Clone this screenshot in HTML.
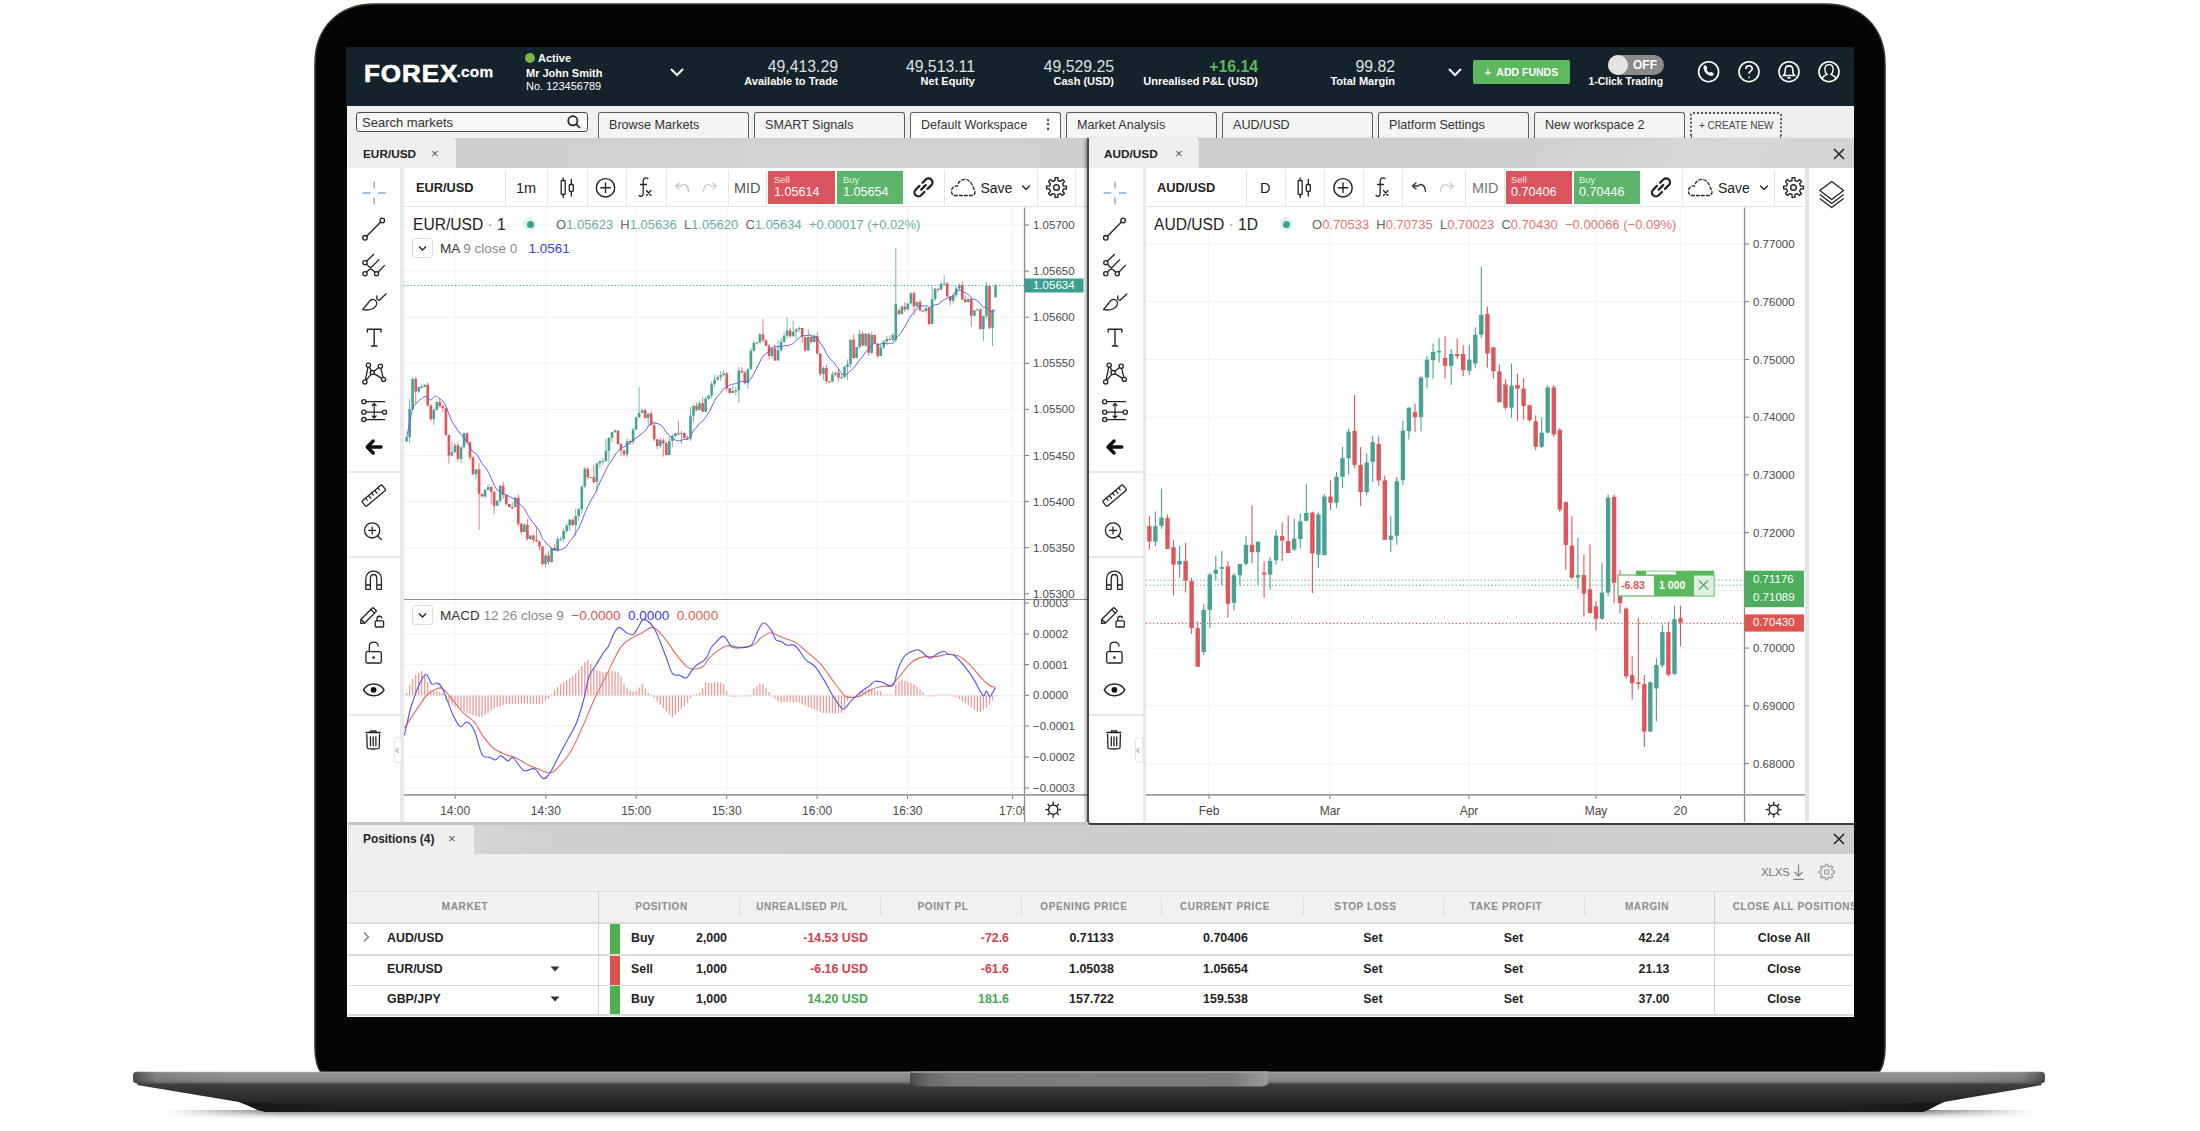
<!DOCTYPE html>
<html><head><meta charset="utf-8"><title>FOREX.com platform</title>
<style>
*{margin:0;padding:0;box-sizing:border-box}
html,body{width:2200px;height:1131px;overflow:hidden;background:#fff}
body{font-family:"Liberation Sans", Arial, sans-serif;color:#222;position:relative}
.a{position:absolute}
.t{position:absolute;white-space:nowrap;line-height:1}
.hv{color:#eef0f1;font-size:15.8px;text-align:right;width:200px}
.hl{color:#fff;font-size:11px;font-weight:bold;text-align:right;width:200px}
.tab{position:absolute;top:111.8px;height:26.2px;width:151px;border:1.6px solid #5c5c5c;border-bottom:none;border-radius:3px 3px 0 0;background:#f3f4f4;font-size:12.6px;color:#333;padding:5px 0 0 10px;white-space:nowrap}
.sep{position:absolute;width:1px;background:#e6e6e6}
.ax{position:absolute;font-size:11.5px;color:#4a4a4a;white-space:nowrap;line-height:1}
.th{position:absolute;top:902px;font-size:10px;font-weight:bold;color:#8c8c8c;letter-spacing:.6px;white-space:nowrap;line-height:1;text-align:center}
.td{position:absolute;font-size:12.4px;font-weight:bold;color:#1e1e1e;white-space:nowrap;line-height:1}
</style></head><body>
<svg class="a" style="left:0;top:0" width="2200" height="1131" viewBox="0 0 2200 1131">
<defs>
<linearGradient id="gShadow" x1="0" y1="0" x2="0" y2="1"><stop offset="0" stop-color="#7a7a7a"/><stop offset=".35" stop-color="#b8b8b8"/><stop offset="1" stop-color="#fff" stop-opacity="0"/></linearGradient>
<linearGradient id="gShadowH" x1="0" y1="0" x2="1" y2="0"><stop offset="0" stop-color="#fff" stop-opacity="1"/><stop offset=".06" stop-color="#fff" stop-opacity="0"/><stop offset=".94" stop-color="#fff" stop-opacity="0"/><stop offset="1" stop-color="#fff" stop-opacity="1"/></linearGradient>
<linearGradient id="gLow" x1="0" y1="0" x2="0" y2="1"><stop offset="0" stop-color="#4a4a4a"/><stop offset=".25" stop-color="#383838"/><stop offset=".6" stop-color="#2a2a2a"/><stop offset="1" stop-color="#1a1a1a"/></linearGradient>
<linearGradient id="gBar" x1="0" y1="0" x2="0" y2="1"><stop offset="0" stop-color="#b4b4b4"/><stop offset=".12" stop-color="#929292"/><stop offset=".7" stop-color="#888"/><stop offset="1" stop-color="#6a6a6a"/></linearGradient>
<linearGradient id="gBarEnd" x1="0" y1="0" x2="1" y2="0"><stop offset="0" stop-color="#000" stop-opacity=".45"/><stop offset=".012" stop-color="#000" stop-opacity=".1"/><stop offset=".05" stop-color="#000" stop-opacity="0"/><stop offset=".95" stop-color="#000" stop-opacity="0"/><stop offset=".988" stop-color="#000" stop-opacity=".1"/><stop offset="1" stop-color="#000" stop-opacity=".45"/></linearGradient>
<linearGradient id="gNotch" x1="0" y1="0" x2="1" y2="0"><stop offset="0" stop-color="#4a4a4a"/><stop offset=".05" stop-color="#6a6a6a"/><stop offset=".12" stop-color="#7a7a7a"/><stop offset=".5" stop-color="#7e7e7e"/><stop offset=".9" stop-color="#7a7a7a"/><stop offset=".95" stop-color="#8c8c8c"/><stop offset="1" stop-color="#9a9a9a"/></linearGradient>
</defs>
<rect x="165" y="1110" width="1870" height="11" fill="url(#gShadow)"/>
<rect x="165" y="1106" width="1870" height="16" fill="url(#gShadowH)"/>
<path d="M140,1080 L2038,1080 L2042,1085 L1944,1102 C1934,1106 1930,1110 1922,1112 L266,1112 C256,1110 248,1105 239,1102 L137,1085 Z" fill="url(#gLow)"/>
<defs><linearGradient id="gFootL" x1="0" y1="0" x2="1" y2="0"><stop offset="0" stop-color="#161616"/><stop offset=".6" stop-color="#1a1a1a"/><stop offset="1" stop-color="#1e1e1e" stop-opacity="0"/></linearGradient><linearGradient id="gFootR" x1="1" y1="0" x2="0" y2="0"><stop offset="0" stop-color="#161616"/><stop offset=".6" stop-color="#1a1a1a"/><stop offset="1" stop-color="#1e1e1e" stop-opacity="0"/></linearGradient></defs><path d="M238.5,1101.8 C250,1103 262,1103.3 280,1103.5 L340,1104 L340,1112 L266,1112 C256,1110 248,1105 238.5,1101.8 Z" fill="url(#gFootL)"/><path d="M1944,1102 C1932,1103 1920,1103.3 1900,1103.5 L1845,1104 L1845,1112 L1922,1112 C1930,1110 1934,1106 1944,1102 Z" fill="url(#gFootR)"/>
<path d="M315,64 C315,28 338,4 375,4 L1825,4 C1862,4 1885,28 1885,64 L1885,1048 C1885,1060 1882,1069 1879,1072 L321,1072 C318,1069 315,1060 315,1048 Z" fill="#050505" stroke="#3e382c" stroke-width="1.6"/>
<rect x="133" y="1071.8" width="1912" height="11.6" rx="3.8" fill="url(#gBar)"/>
<rect x="133" y="1071.8" width="1912" height="11.6" rx="3.8" fill="url(#gBarEnd)"/>
<path d="M910,1071.5 L1268,1071.5 L1268,1084 C1266,1086 1262,1086.5 1258,1086.5 L920,1086.5 C915,1086.5 911,1085 910,1083 Z" fill="url(#gNotch)"/>
<rect x="910" y="1071.5" width="358" height="1.2" fill="#a8a8a8"/>
</svg>
<div class="a" style="left:347px;top:47px;width:1507px;height:970px;background:#fff;overflow:hidden"></div><div class="a" style="left:345.5px;top:47px;width:1508.5px;height:59px;background:#14222b"></div><div class="t" style="left:364px;top:62px;font-size:24.5px;font-weight:bold;color:#fff;letter-spacing:0.9px;transform:scaleX(1.06);transform-origin:0 0;-webkit-text-stroke:0.7px #fff">FOREX</div><div class="t" style="left:456.5px;top:64px;font-size:15.3px;font-weight:bold;color:#fff;letter-spacing:0.3px;-webkit-text-stroke:0.3px #fff">.com</div><div class="a" style="left:525px;top:53px;width:10px;height:10px;border-radius:50%;background:#7cb342"></div><div class="t" style="left:538px;top:53px;font-size:11px;font-weight:bold;color:#fff">Active</div><div class="t" style="left:526px;top:68px;font-size:11px;font-weight:bold;color:#fff">Mr John Smith</div><div class="t" style="left:526px;top:81px;font-size:11px;color:#fff">No. 123456789</div><svg class="a" style="left:669px;top:66px" width="16" height="12" viewBox="0 0 16 12"><path d="M2,3 L8,9 L14,3" fill="none" stroke="#fff" stroke-width="2"/></svg><div class="t hv" style="left:638px;top:59px;color:#dde1e3;">49,413.29</div><div class="t hl" style="left:638px;top:76px">Available to Trade</div><div class="t hv" style="left:775px;top:59px;color:#dde1e3;">49,513.11</div><div class="t hl" style="left:775px;top:76px">Net Equity</div><div class="t hv" style="left:914px;top:59px;color:#dde1e3;">49,529.25</div><div class="t hl" style="left:914px;top:76px">Cash (USD)</div><div class="t hv" style="left:1058px;top:59px;color:#5cb85c;font-weight:bold;">+16.14</div><div class="t hl" style="left:1058px;top:76px">Unrealised P&amp;L (USD)</div><div class="t hv" style="left:1195px;top:59px;color:#dde1e3;">99.82</div><div class="t hl" style="left:1195px;top:76px">Total Margin</div><svg class="a" style="left:1447px;top:66px" width="16" height="12" viewBox="0 0 16 12"><path d="M2,3 L8,9 L14,3" fill="none" stroke="#fff" stroke-width="2"/></svg><div class="a" style="left:1473px;top:60px;width:97px;height:24px;background:#5cb85c;border-radius:2px"></div><div class="t" style="left:1473px;top:66.5px;width:97px;text-align:center;font-size:10.5px;font-weight:bold;color:#fff">+&nbsp; ADD FUNDS</div><div class="a" style="left:1608px;top:55px;width:56px;height:20px;background:#8a8a8a;border-radius:10px"></div><div class="a" style="left:1608px;top:55px;width:20px;height:20px;background:#e4e4e4;border-radius:50%"></div><div class="t" style="left:1633px;top:59px;font-size:12px;font-weight:bold;color:#fff">OFF</div><div class="t" style="left:1563px;top:77px;width:100px;text-align:right;font-size:10.4px;font-weight:bold;color:#fff">1-Click Trading</div><svg class="a" style="left:1690px;top:52px" width="160" height="40" viewBox="1690 52 160 40" fill="none" stroke="#fff" stroke-width="1.6">
<circle cx="1708.6" cy="71.7" r="10"/>
<path d="M1703.5,67 c0.5,-1.5 1.6,-2 2.3,-1.6 l1.4,2.2 c0.3,0.6 0,1.1 -0.7,1.6 c0.6,1.6 1.8,2.9 3.4,3.6 c0.5,-0.7 1,-1 1.6,-0.7 l2.2,1.4 c0.4,0.7 -0.1,1.8 -1.6,2.3 c-4.5,0.3 -8.7,-3.9 -8.6,-8.8 z" fill="#fff" stroke="none"/>
<circle cx="1749" cy="71.7" r="10"/>
<path d="M1745.8,69 c0,-2 1.4,-3.3 3.2,-3.3 c1.9,0 3.2,1.3 3.2,3 c0,2.4 -3.2,2.4 -3.2,5"/>
<circle cx="1749" cy="77.3" r="0.9" fill="#fff" stroke="none"/>
<circle cx="1789" cy="71.7" r="10"/>
<path d="M1783.5,75.5 h11 c-1.3,-1.2 -1.7,-2.4 -1.7,-4.2 v-1.5 c0,-2.3 -1.6,-3.9 -3.8,-3.9 c-2.2,0 -3.8,1.6 -3.8,3.9 v1.5 c0,1.8 -0.4,3 -1.7,4.2 z"/>
<path d="M1787.6,77.3 c0.3,0.9 2.5,0.9 2.8,0"/>
<circle cx="1829" cy="71.7" r="10"/>
<path d="M1821.8,79.2 C1822.8,76.4 1824.8,75.2 1826.9,74.4 C1825.3,73 1824.9,71.2 1824.9,69.2 C1824.9,66.4 1826.7,64.6 1829,64.6 C1831.3,64.6 1833.1,66.4 1833.1,69.2 C1833.1,71.2 1832.7,73 1831.1,74.4 C1833.2,75.2 1835.2,76.4 1836.2,79.2" stroke-width="1.4"/>
</svg><div class="a" style="left:347px;top:106px;width:1507px;height:32px;background:#eff0f0"></div><div class="a" style="left:356px;top:112px;width:232px;height:20px;border:1.6px solid #4a4a4a;border-radius:3px;background:#f6f6f6"></div><div class="t" style="left:362px;top:115.5px;font-size:13px;color:#333">Search markets</div><svg class="a" style="left:566px;top:114px" width="16" height="16" viewBox="0 0 16 16" fill="none" stroke="#222" stroke-width="1.7"><circle cx="6.8" cy="6.8" r="4.6"/><path d="M10.2,10.2 L14,14"/></svg><div class="tab" style="left:598px;">Browse Markets</div><div class="tab" style="left:754px;">SMART Signals</div><div class="tab" style="left:910px;background:#fff;">Default Workspace</div><div class="tab" style="left:1066px;">Market Analysis</div><div class="tab" style="left:1222px;">AUD/USD</div><div class="tab" style="left:1378px;">Platform Settings</div><div class="tab" style="left:1534px;">New workspace 2</div><div class="t" style="left:1041.5px;top:118px;font-size:12px;font-weight:bold;color:#333">&#8942;</div><div class="a" style="left:1690px;top:112px;width:92px;height:26px;border:2px dotted #555;border-bottom:none;border-radius:3px 3px 0 0;background:#f3f4f4"></div><div class="t" style="left:1699px;top:120.5px;font-size:10px;color:#444">+ CREATE NEW</div><div class="a" style="left:348px;top:138px;width:740px;height:30px;background:linear-gradient(90deg,#cdcdcd,#d2d2d2 60%,#cfcfcf)"></div><div class="a" style="left:348px;top:138px;width:108px;height:30px;background:#efefef;border-radius:0 4px 0 0"></div><div class="t" style="left:363px;top:148.5px;font-size:11.8px;font-weight:bold;color:#222">EUR/USD</div><div class="t" style="left:431px;top:147px;font-size:13px;color:#555">&#215;</div><div class="a" style="left:348px;top:168px;width:52px;height:654px;background:#fff"></div><div class="a" style="left:400px;top:168px;width:3.5px;height:654px;background:#e9e9eb"></div><div class="a" style="left:349px;top:471px;width:51px;height:1.5px;background:#e6e6e8"></div><div class="a" style="left:349px;top:556px;width:51px;height:1.5px;background:#e6e6e8"></div><div class="a" style="left:349px;top:714px;width:51px;height:1.5px;background:#e6e6e8"></div><svg class="a" style="left:0;top:0;overflow:visible" width="1" height="1"><g fill="none" stroke="#222" stroke-width="1.3" stroke-linecap="round" stroke-linejoin="round"><g stroke="#85ade0" stroke-width="1.5" stroke-linecap="butt"><path d="M374.2,181.5 V188.5 M374.2,197.5 V204.5 M362.7,193 H370.5 M378,193 H385.8"/></g><path d="M366.6,236.3 L380.7,222"/><circle cx="365" cy="237.8" r="2.3"/><circle cx="382.3" cy="220.5" r="2.3"/><circle cx="365" cy="262.8" r="2.1"/><circle cx="365" cy="273.7" r="2.1"/><circle cx="376.5" cy="273.7" r="2.1"/><path d="M366.5,264.3 L375,272.2 M366.5,261.3 L373.6,254.5 M366.5,272.2 L379,259.6 M378,272.2 L384.5,265.4"/><path d="M362.7,309.6 L368.5,302.5 C370.5,299 373.5,298.5 376,301 C378,304 376,307.5 372,309 C369,310.3 365,310 362.7,309.6 Z"/><path d="M377,296 C376.5,298 377.5,300 379,300.5 L386,294"/><path d="M367.4,332 V329.3 H381 V332 M374.2,329.3 V346 M371.5,346 H377" stroke-width="1.4"/><path d="M364.9,381.9 L368.4,365.2 L372.3,372.6 L380.4,366.3 L383.5,379.4 L372.3,372.6 Z"/><circle cx="364.9" cy="381.9" r="2.1" fill="#fff"/><circle cx="368.4" cy="365.2" r="2.1" fill="#fff"/><circle cx="372.3" cy="372.6" r="2.1" fill="#fff"/><circle cx="380.4" cy="366.3" r="2.1" fill="#fff"/><circle cx="383.5" cy="379.4" r="2.1" fill="#fff"/><path d="M366,401.7 H384.7 M366,412.2 H382.4 M366,419.6 H384.7"/><circle cx="363.9" cy="401.7" r="2.1" fill="#fff"/><circle cx="363.9" cy="412.2" r="2.1" fill="#fff"/><circle cx="363.9" cy="419.6" r="2.1" fill="#fff"/><circle cx="384.5" cy="412.2" r="2.1" fill="#fff"/><path d="M374.2,403.5 V418 M372.3,405.5 L374.2,403.3 L376.1,405.5 M372.3,416 L374.2,418.2 L376.1,416" stroke-width="1.2"/><path d="M368.5,447 H381 M373.2,441 L367.2,447 L373.2,453" stroke-width="3.4" stroke-linecap="round" stroke="#111"/><g transform="translate(373.8,495.6) rotate(-40)"><rect x="-13" y="-3.4" width="26" height="6.8" rx="1"/><path d="M-8,-3.4 V-0.8 M-4,-3.4 V0.2 M0,-3.4 V-0.8 M4,-3.4 V0.2 M8,-3.4 V-0.8"/></g><circle cx="372.2" cy="530.4" r="7.6"/><path d="M377.6,535.8 L381.5,539.6 M368.8,530.4 H375.6 M372.2,527 V533.8"/><path d="M365.8,589.3 V579 C365.8,568.5 381.4,568.5 381.4,579 V589.3 H376.8 V579 C376.8,573 370.4,573 370.4,579 V589.3 Z M365.8,585 H370.4 M376.8,585 H381.4"/><g transform="translate(369.5,614.5) rotate(-45)"><rect x="-9.5" y="-2.6" width="17" height="5.2" rx="0.8"/><path d="M-9.5,-2.6 L-12.5,0 L-9.5,2.6 M4.5,-2.6 V2.6"/></g><rect x="375.2" y="620.8" width="8.4" height="6.2" rx="1"/><path d="M377,620.8 V618.6 C377,615.6 381.6,615.6 381.6,617.8"/><rect x="365.9" y="651.6" width="15.4" height="11.4" rx="1.6"/><path d="M369.3,651.6 V646.5 C369.3,640.8 378.2,640.8 378.2,646"/><circle cx="373.6" cy="657.6" r="1.3" fill="#222" stroke="none"/><path d="M363.5,689.8 C368,682 379.5,682 384,689.8 C379.5,697.6 368,697.6 363.5,689.8 Z" stroke-width="1.5"/><circle cx="373.6" cy="689.8" r="2.9" fill="#111" stroke="none"/><path d="M366,732.5 H380.2 M370.5,732.5 V730.8 H375.9 V732.5 M366.8,734.5 L367.2,748 C367.8,749.3 378.6,749.3 379.2,748 L379.6,734.5 M370.5,737 V745.8 M373.2,737 V745.8 M375.9,737 V745.8" stroke-width="1.3"/></g></svg><div class="a" style="left:394px;top:737px;width:8px;height:26px;background:#fff;border:1px solid #e6e6e6;border-radius:3px"></div><div class="t" style="left:395px;top:743px;font-size:13px;color:#9a9a9a">&#8249;</div><div class="a" style="left:403.5px;top:168px;width:684px;height:39px;background:#fff;border-bottom:1px solid #e3e3e3"></div><div class="sep" style="left:505px;top:170px;height:36px"></div><div class="sep" style="left:547px;top:170px;height:36px"></div><div class="sep" style="left:586.5px;top:170px;height:36px"></div><div class="sep" style="left:626px;top:170px;height:36px"></div><div class="sep" style="left:665.5px;top:170px;height:36px"></div><div class="sep" style="left:728px;top:170px;height:36px"></div><div class="sep" style="left:766px;top:170px;height:36px"></div><div class="sep" style="left:943.5px;top:170px;height:36px"></div><div class="sep" style="left:1037px;top:170px;height:36px"></div><div class="sep" style="left:1075px;top:170px;height:36px"></div><div class="t" style="left:416px;top:181.5px;font-size:12.8px;font-weight:bold;color:#222">EUR/USD</div><div class="t" style="left:516px;top:181px;font-size:14.5px;color:#222">1m</div><div class="t" style="left:734px;top:181px;font-size:14.5px;color:#555">MID</div><div class="a" style="left:768px;top:171px;width:67px;height:33px;background:#d9545e"></div><div class="a" style="left:837px;top:171px;width:66px;height:33px;background:#5cb46b"></div><div class="t" style="left:774px;top:175px;font-size:9.5px;color:#fbe3e3">Sell</div><div class="t" style="left:774px;top:186px;font-size:12.6px;color:#fff">1.05614</div><div class="t" style="left:843px;top:175px;font-size:9.5px;color:#e3f6e3">Buy</div><div class="t" style="left:843px;top:186px;font-size:12.6px;color:#fff">1.05654</div><div class="t" style="left:980.5px;top:181px;font-size:14px;color:#222">Save</div><svg class="a" style="left:0;top:0;overflow:visible" width="1" height="1"><g fill="none" stroke="#222" stroke-width="1.3" stroke-linecap="round" stroke-linejoin="round"><rect x="561.2" y="180.5" width="4" height="14" rx="0.8"/><path d="M563.2,178 V180.5 M563.2,194.5 V197.5"/><rect x="569.3" y="184.5" width="4" height="6.8" rx="0.8"/><path d="M571.3,179.5 V184.5 M571.3,191.3 V196"/><circle cx="605.5" cy="187.8" r="9.2" stroke-width="1.4"/><path d="M600.7,187.8 H610.3 M605.5,183 V192.6" stroke-width="1.4"/><path d="M648,178.5 C646,177.2 643.2,178 643.2,181 V193.5 C643.2,196.5 640.5,197 639,195.5 M640.5,184.5 H646.5" stroke-width="1.3"/><path d="M646.5,190.5 L651,195.5 M651,190.5 L646.5,195.5" stroke-width="1.2"/><path d="M688.5,191.5 C688,185 684,183 681,186 H676 M679,183 L675.5,186 L679,189" stroke="#c9c9c9" stroke-width="1.4"/><path d="M703.5,191.5 C704,185 708,183 711,186 H716 M713,183 L716.5,186 L713,189" stroke="#d0d0d0" stroke-width="1.4"/><g transform="translate(923.5,187.4) rotate(-45)" stroke-width="2.3" stroke="#222" stroke-linecap="round"><path d="M-1.8,-3.9 H-7.2 A3.9,3.9 0 0 0 -7.2,3.9 H-2.6 M1.8,3.9 H7.2 A3.9,3.9 0 0 0 7.2,-3.9 H2.6 M-3.2,0 H3.2"/></g><path d="M954.5,195.5 H971.5 C975.5,195.5 976,190.5 973.5,188.5 C972,181 966,178 962,180 C959.5,181 958,183.5 957.5,186 C954,185.5 951.5,188 951.5,191 C951.5,194 953,195.5 954.5,195.5 Z" stroke-dasharray="2.8 2.2" stroke-width="1.3"/><path d="M1022.5,186 L1026,189.5 L1029.5,186" stroke-width="1.3"/><path d="M1063.5,186 L1066.4,186.1 L1066.4,188.9 L1063.5,189 L1062.6,191.4 L1064.5,193.5 L1062.5,195.5 L1060.4,193.6 L1058,194.5 L1057.9,197.4 L1055.1,197.4 L1055,194.5 L1052.6,193.6 L1050.5,195.5 L1048.5,193.5 L1050.4,191.4 L1049.5,189 L1046.6,188.9 L1046.6,186.1 L1049.5,186 L1050.4,183.6 L1048.5,181.5 L1050.5,179.5 L1052.6,181.4 L1055,180.5 L1055.1,177.6 L1057.9,177.6 L1058,180.5 L1060.4,181.4 L1062.5,179.5 L1064.5,181.5 L1062.6,183.6 Z" stroke="#222" stroke-width="1.4" fill="none"/><circle cx="1056.5" cy="187.5" r="2.8" stroke="#222" stroke-width="1.4" fill="none"/></g></svg><svg class="a" style="left:0;top:0" width="1100" height="830" viewBox="0 0 1100 830"><defs><clipPath id="cE"><rect x="404" y="207.5" width="620" height="391"/></clipPath><clipPath id="cM"><rect x="404" y="600" width="620" height="194"/></clipPath></defs><path d="M404,225 H1024 M404,271.1 H1024 M404,317.2 H1024 M404,363.3 H1024 M404,409.4 H1024 M404,455.5 H1024 M404,501.6 H1024 M404,547.7 H1024 M404,593.8 H1024 M404,603 H1024 M404,634 H1024 M404,664.6 H1024 M404,695.3 H1024 M404,726 H1024 M404,757 H1024 M404,788 H1024 M455.2,207.5 V794 M545.8,207.5 V794 M636.2,207.5 V794 M726.7,207.5 V794 M817.1,207.5 V794 M907.5,207.5 V794 M1012.6,207.5 V794" stroke="#f0f1f4" stroke-width="1"/><g clip-path="url(#cE)"><path d="M406.6,436.2 V441.8 M409.6,399 V443 M412.6,377.3 V410 M418.7,386.1 V392.8 M421.7,383.9 V388.9 M424.7,384.5 V387.6 M433.8,408.3 V424.9 M436.8,400.6 V410.3 M451.9,441.6 V456.3 M454.9,443 V452.9 M461,446.1 V463.1 M464,433.2 V448.7 M476.1,468.8 V479.5 M485.1,488.8 V497.6 M488.1,484.4 V490.2 M497.2,500.1 V506.3 M500.2,485.4 V503.3 M515.3,496.7 V507.3 M524.4,523.4 V532.1 M530.4,535 V540 M545.5,553.3 V567.2 M551.6,548.1 V562.6 M557.6,536.4 V552 M560.6,536.8 V540.9 M563.6,528.5 V542.4 M566.7,523.6 V532.8 M569.7,519 V530.8 M575.7,509.1 V536.2 M578.7,507.9 V520.6 M581.8,485.5 V513.2 M584.8,466.8 V488 M590.8,476.8 V477.8 M596.9,462.6 V492.5 M599.9,460.2 V467.9 M602.9,458 V465.3 M605.9,438.9 V461.8 M608.9,437.5 V462.5 M612,431.7 V442.5 M615,429.1 V432.6 M627.1,438.1 V457.1 M633.1,427.8 V444.8 M636.1,416.6 V430.1 M639.1,387 V418 M642.2,408.7 V413 M648.2,413.1 V426.9 M660.3,437.4 V447.7 M669.3,436.7 V455.1 M672.4,433.8 V447.3 M675.4,432.7 V436.9 M681.4,430.3 V444.1 M690.5,407.1 V440.9 M693.5,405.6 V422.1 M699.5,400.9 V410.6 M705.6,396.4 V412.2 M708.6,395 V399.9 M711.6,381.6 V398.5 M714.6,374.3 V386.4 M717.7,375.4 V380.4 M720.7,371.1 V380.9 M723.7,370.2 V376.6 M732.8,386 V392.9 M735.8,386.7 V395 M738.8,367.1 V403 M747.9,368.6 V388.9 M750.9,347.7 V370.1 M753.9,340.8 V351.8 M756.9,342.2 V343.8 M759.9,333.1 V343.2 M772,348.2 V358.1 M778.1,340.1 V360.9 M781.1,338.1 V351.8 M784.1,332.5 V342.4 M787.1,317.3 V338.5 M793.2,320.5 V336.5 M796.2,328.1 V339.3 M799.2,326.5 V332.1 M808.3,328.9 V351.1 M814.3,334.2 V342.3 M823.4,366.2 V379.9 M832.4,371.3 V382.3 M835.4,371.6 V376.3 M841.5,373.5 V378.2 M844.5,365.7 V377.8 M847.5,359.4 V379.8 M850.5,339.7 V367.8 M856.6,347 V358.1 M859.6,329.8 V348.6 M865.6,333.6 V347.2 M871.7,332 V354.1 M880.7,343.9 V356.1 M883.8,340.1 V349.1 M886.8,335.9 V344.6 M892.8,332.9 V341.4 M895.8,248 V342 M901.9,306.1 V314.2 M907.9,303 V310.4 M910.9,292.1 V304.6 M917,301.4 V307.5 M926,306.9 V313 M932.1,286.6 V324.1 M935.1,287.8 V301 M941.1,282.4 V290.9 M944.2,275 V284.8 M953.2,292.3 V303.6 M956.2,286.4 V297.6 M959.3,282.8 V290.2 M968.3,298.1 V302.8 M974.4,310.1 V316 M977.4,308.4 V310.3 M983.4,315.5 V340.8 M986.4,282 V318.8 M992.5,308.9 V346 M995.5,284 V298" stroke="#47a293" stroke-width="0.9" fill="none" opacity="0.85"/><path d="M415.7,377.2 V403.3 M427.7,382.7 V406.8 M430.8,404 V421.3 M439.8,397.8 V408 M442.8,404.4 V412.2 M445.9,407.7 V435.8 M448.9,434.9 V463.5 M457.9,442.2 V461.7 M467,433.1 V444.1 M470,441.2 V460.1 M473,456.1 V475.2 M479.1,463.1 V530 M482.1,493.4 V496.8 M491.2,485.7 V504.1 M494.2,490.9 V514.2 M503.2,481.8 V498.9 M506.3,494.6 V505.6 M509.3,503.9 V507.3 M512.3,502.1 V508.8 M518.3,494.4 V526.2 M521.4,522.9 V534.5 M527.4,519.2 V540.7 M533.4,534.4 V542.7 M536.5,527 V541.8 M539.5,540.6 V550.4 M542.5,546.3 V565.8 M548.5,551.4 V564.5 M554.6,544.2 V550.8 M572.7,518.2 V525.7 M587.8,466.8 V479.3 M593.8,464.8 V484 M618,430.3 V444.7 M621,442.6 V456.5 M624,450.2 V456 M630.1,439.4 V445.2 M645.2,408.6 V418.5 M651.2,411 V425.6 M654.2,421 V441.2 M657.3,439 V449 M663.3,438.2 V456.8 M666.3,441.3 V455.4 M678.4,420.7 V435.2 M684.4,432.1 V438.4 M687.5,435.6 V438.9 M696.5,402.4 V411.2 M702.6,397.5 V412.1 M726.7,371.8 V391.1 M729.7,388.1 V393.6 M741.8,367.2 V373.5 M744.8,370.9 V384.6 M763,319 V342.1 M766,339.7 V346.4 M769,343.9 V358.9 M775,344.6 V361 M790.1,327.7 V337.7 M802.2,327.8 V342.7 M805.2,336.8 V351.4 M811.3,335.7 V343 M817.3,332.4 V355.1 M820.3,353.2 V376.3 M826.4,364.3 V384.2 M829.4,381.2 V382.3 M838.5,368.7 V381.5 M853.6,334.4 V359.1 M862.6,331.6 V346.2 M868.7,333.4 V355.8 M874.7,334.4 V343.7 M877.7,342.9 V357.8 M889.8,336.3 V340 M898.9,308.5 V315.4 M904.9,302 V312 M914,291.6 V315.4 M920,299.4 V311.3 M923,309.8 V311.8 M929.1,306.5 V325.7 M938.1,288.4 V292.4 M947.2,281.9 V296.9 M950.2,296.2 V305.5 M962.3,281.4 V300.1 M965.3,295.5 V303 M971.3,297.8 V326.6 M980.4,308.1 V329.6 M989.5,285.1 V329.1" stroke="#dd565a" stroke-width="0.9" fill="none" opacity="0.85"/><path d="M406.6,437.3 V441.3 M409.6,408.9 V437.3 M412.6,379.1 V408.9 M418.7,387.3 V391.4 M421.7,386.7 V387.9 M424.7,384.8 V386.7 M433.8,409.7 V418.9 M436.8,401.9 V409.7 M451.9,452.3 V455.4 M454.9,445.2 V452.3 M461,447.2 V459 M464,433.3 V447.2 M476.1,469.6 V474.3 M485.1,490.1 V496.4 M488.1,486.9 V490.1 M497.2,500.7 V505.8 M500.2,485.7 V500.7 M515.3,497.8 V507.1 M524.4,524.8 V531.9 M530.4,535.5 V539 M545.5,555.6 V563.9 M551.6,548.1 V562.1 M557.6,539.2 V550.7 M560.6,539 V540.2 M563.6,531.1 V539 M566.7,525.6 V531.1 M569.7,519.8 V525.6 M575.7,516 V525.1 M578.7,508.9 V516 M581.8,486.5 V508.9 M584.8,468.8 V486.5 M590.8,476.9 V478.1 M596.9,463.6 V482.1 M599.9,461.3 V463.6 M602.9,460.9 V462.1 M605.9,450.8 V460.9 M608.9,437.8 V450.8 M612,432.3 V437.8 M615,430.7 V432.3 M627.1,441.3 V454.6 M633.1,429.5 V441.8 M636.1,417.2 V429.5 M639.1,412.9 V417.2 M642.2,410.2 V412.9 M648.2,413.5 V418 M660.3,440.3 V446.1 M669.3,440.9 V455 M672.4,436.1 V440.9 M675.4,433.3 V436.1 M681.4,433 V434.2 M690.5,415.7 V438.5 M693.5,405.7 V415.7 M699.5,403.3 V410 M705.6,398.8 V411.7 M708.6,395.5 V398.8 M711.6,384.3 V395.5 M714.6,379.8 V384.3 M717.7,377.2 V379.8 M720.7,375 V377.2 M723.7,373.4 V375 M732.8,391.1 V392.9 M735.8,390.5 V391.7 M738.8,370.7 V390.5 M747.9,369 V382.9 M750.9,350.4 V369 M753.9,342.9 V350.4 M756.9,342.3 V343.5 M759.9,334.4 V342.3 M772,348.3 V355.9 M778.1,350.2 V360.4 M781.1,341.9 V350.2 M784.1,335.8 V341.9 M787.1,330.5 V335.8 M793.2,331.8 V336.2 M796.2,329.3 V331.8 M799.2,327.9 V329.3 M808.3,337 V350.4 M814.3,336.1 V341.9 M823.4,368 V374 M832.4,374.5 V381.6 M835.4,372.8 V374.5 M841.5,377.2 V378.4 M844.5,367 V377.2 M847.5,364.2 V367 M850.5,339.8 V364.2 M856.6,347 V357.9 M859.6,333.7 V347 M865.6,333.8 V345.6 M871.7,334.9 V352.8 M880.7,347.4 V356 M883.8,341.6 V347.4 M886.8,338.9 V341.6 M892.8,335 V339.5 M895.8,304 V340 M901.9,306.4 V313.9 M907.9,303.6 V309.5 M910.9,293.2 V303.6 M917,302 V306.2 M926,307.9 V311.1 M932.1,299 V323.9 M935.1,288.8 V299 M941.1,283.9 V289.4 M944.2,283.4 V284.6 M953.2,295.3 V300.7 M956.2,288.6 V295.3 M959.3,284.9 V288.6 M968.3,299.1 V302 M974.4,310.2 V315.7 M977.4,309.4 V310.6 M983.4,315.9 V329 M986.4,285.7 V315.9 M992.5,310.2 V327.8 M995.5,285.5 V297" stroke="#47a293" stroke-width="2.6" fill="none"/><path d="M415.7,379.1 V391.4 M427.7,384.8 V405.6 M430.8,405.6 V418.9 M439.8,401.9 V406 M442.8,406 V408.1 M445.9,408.1 V435.1 M448.9,435.1 V455.4 M457.9,445.2 V459 M467,433.3 V442.2 M470,442.2 V457.6 M473,457.6 V474.3 M479.1,469.6 V493.8 M482.1,493.8 V496.4 M491.2,486.9 V492.1 M494.2,492.1 V505.8 M503.2,485.7 V494.7 M506.3,494.7 V504 M509.3,504 V507 M512.3,507 V508.2 M518.3,497.8 V523.7 M521.4,523.7 V531.9 M527.4,524.8 V539 M533.4,535.5 V539.9 M536.5,539.9 V541.4 M539.5,541.4 V546.4 M542.5,546.4 V563.9 M548.5,555.6 V562.1 M554.6,548.1 V550.7 M572.7,519.8 V525.1 M587.8,468.8 V477.3 M593.8,476.9 V482.1 M618,430.7 V444 M621,444 V450.5 M624,450.5 V454.6 M630.1,441.3 V442.5 M645.2,410.2 V418 M651.2,413.5 V425.2 M654.2,425.2 V439.3 M657.3,439.3 V446.1 M663.3,440.3 V443.3 M666.3,443.3 V455 M678.4,433.3 V434.5 M684.4,433 V438.1 M687.5,438.1 V439.3 M696.5,405.7 V410 M702.6,403.3 V411.7 M726.7,373.4 V388.2 M729.7,388.2 V392.9 M741.8,370.7 V372.4 M744.8,372.4 V382.9 M763,334.4 V340.2 M766,340.2 V345.7 M769,345.7 V355.9 M775,348.3 V360.4 M790.1,330.5 V336.2 M802.2,327.9 V337.1 M805.2,337.1 V350.4 M811.3,337 V341.9 M817.3,336.1 V353.6 M820.3,353.6 V374 M826.4,368 V381.2 M829.4,381.2 V382.4 M838.5,372.8 V377.5 M853.6,339.8 V357.9 M862.6,333.7 V345.6 M868.7,333.8 V352.8 M874.7,334.9 V343.4 M877.7,343.4 V356 M889.8,338.9 V340.1 M898.9,310.5 V313.9 M904.9,306.4 V309.5 M914,293.2 V306.2 M920,302 V310.4 M923,310.4 V311.6 M929.1,307.9 V323.9 M938.1,288.8 V290 M947.2,283.4 V296.6 M950.2,296.6 V300.7 M962.3,284.9 V299.6 M965.3,299.6 V302 M971.3,299.1 V315.7 M980.4,309.4 V329 M989.5,285.7 V327.8" stroke="#dd565a" stroke-width="2.6" fill="none"/><path d="M406.6,437.3 C407.1,435 408.6,427.9 409.6,423.1 C410.6,418.3 411.6,411.6 412.6,408.4 C413.6,405.3 414.7,405.5 415.7,404.2 C416.7,402.9 417.7,401.8 418.7,400.8 C419.7,399.9 420.7,399.2 421.7,398.5 C422.7,397.7 423.7,396.6 424.7,396.5 C425.7,396.4 426.7,397.1 427.7,397.6 C428.7,398.2 429.8,400.1 430.8,400 C431.8,399.9 432.8,397.6 433.8,396.9 C434.8,396.3 435.8,395.8 436.8,396.2 C437.8,396.5 438.8,398.3 439.8,399.1 C440.8,400 441.8,399.8 442.8,401 C443.8,402.2 444.9,404.2 445.9,406.3 C446.9,408.5 447.9,411.4 448.9,413.9 C449.9,416.5 450.9,419.5 451.9,421.4 C452.9,423.4 453.9,424.4 454.9,425.9 C455.9,427.3 456.9,428.9 457.9,430.3 C458.9,431.7 460,433.2 461,434.5 C462,435.7 463,436.7 464,438 C465,439.2 466,440.4 467,442 C468,443.6 469,445.8 470,447.5 C471,449.1 472,450.9 473,451.8 C474,452.8 475.1,452.4 476.1,453.4 C477.1,454.5 478.1,456.3 479.1,458 C480.1,459.7 481.1,462.2 482.1,463.7 C483.1,465.2 484.1,465.9 485.1,467.2 C486.1,468.5 487.1,469.8 488.1,471.6 C489.1,473.4 490.2,475.9 491.2,478.1 C492.2,480.4 493.2,483.2 494.2,485.2 C495.2,487.1 496.2,488.9 497.2,490 C498.2,491 499.2,490.5 500.2,491.2 C501.2,491.9 502.2,493.4 503.2,494 C504.2,494.7 505.3,494.8 506.3,495.1 C507.3,495.5 508.3,495.8 509.3,496.3 C510.3,496.8 511.3,497.7 512.3,498.2 C513.3,498.7 514.3,498.6 515.3,499.4 C516.3,500.2 517.3,501.9 518.3,502.9 C519.3,504 520.4,504.9 521.4,505.9 C522.4,506.8 523.4,507.1 524.4,508.5 C525.4,510 526.4,512.7 527.4,514.4 C528.4,516.2 529.4,517.6 530.4,519 C531.4,520.4 532.4,521.7 533.4,523 C534.4,524.3 535.5,525.4 536.5,526.8 C537.5,528.2 538.5,529.2 539.5,531.2 C540.5,533.1 541.5,536.7 542.5,538.5 C543.5,540.3 544.5,540.9 545.5,542 C546.5,543.2 547.5,544.4 548.5,545.4 C549.5,546.4 550.6,547.3 551.6,548 C552.6,548.6 553.6,549 554.6,549.3 C555.6,549.6 556.6,549.6 557.6,549.7 C558.6,549.7 559.6,549.8 560.6,549.6 C561.6,549.4 562.6,549 563.6,548.5 C564.6,547.9 565.7,547.4 566.7,546.2 C567.7,545 568.7,542.6 569.7,541.3 C570.7,539.9 571.7,539.3 572.7,537.9 C573.7,536.5 574.7,534.3 575.7,532.7 C576.7,531.2 577.7,530.3 578.7,528.4 C579.7,526.5 580.8,523.7 581.8,521.3 C582.8,518.8 583.8,515.9 584.8,513.4 C585.8,511 586.8,508.7 587.8,506.6 C588.8,504.4 589.8,502.4 590.8,500.6 C591.8,498.7 592.8,497.6 593.8,495.7 C594.8,493.9 595.9,491.7 596.9,489.5 C597.9,487.2 598.9,484.6 599.9,482.4 C600.9,480.2 601.9,478.4 602.9,476.3 C603.9,474.2 604.9,471.8 605.9,469.8 C606.9,467.8 607.9,466 608.9,464.4 C609.9,462.8 611,461.9 612,460.3 C613,458.8 614,456.6 615,455.1 C616,453.7 617,452.7 618,451.5 C619,450.3 620,448.7 621,448 C622,447.2 623,447.5 624,447 C625,446.5 626.1,445.5 627.1,444.8 C628.1,444 629.1,443.4 630.1,442.6 C631.1,441.9 632.1,441.1 633.1,440.3 C634.1,439.5 635.1,438.7 636.1,438 C637.1,437.3 638.1,436.6 639.1,435.8 C640.1,435.1 641.2,434.4 642.2,433.6 C643.2,432.7 644.2,431.8 645.2,430.7 C646.2,429.5 647.2,427.8 648.2,426.6 C649.2,425.3 650.2,423.9 651.2,423.3 C652.2,422.7 653.2,423 654.2,423.1 C655.2,423.1 656.3,423.3 657.3,423.6 C658.3,423.8 659.3,424.1 660.3,424.8 C661.3,425.4 662.3,426.4 663.3,427.7 C664.3,428.9 665.3,431 666.3,432.3 C667.3,433.7 668.3,434.8 669.3,435.7 C670.3,436.6 671.4,437 672.4,437.8 C673.4,438.5 674.4,439.4 675.4,440 C676.4,440.5 677.4,440.9 678.4,440.9 C679.4,441 680.4,440.5 681.4,440.2 C682.4,440 683.4,439.5 684.4,439.3 C685.4,439.2 686.5,439.7 687.5,439.2 C688.5,438.6 689.5,437.5 690.5,436.1 C691.5,434.7 692.5,432.1 693.5,430.6 C694.5,429.1 695.5,428.4 696.5,427.2 C697.5,426 698.5,424.5 699.5,423.5 C700.5,422.5 701.6,422.2 702.6,421.1 C703.6,420.1 704.6,418.6 705.6,417.2 C706.6,415.9 707.6,414.7 708.6,413.1 C709.6,411.4 710.6,409.2 711.6,407.1 C712.6,405 713.6,402.4 714.6,400.6 C715.6,398.8 716.7,397.6 717.7,396.3 C718.7,395 719.7,394.1 720.7,392.9 C721.7,391.6 722.7,389.7 723.7,388.8 C724.7,387.8 725.7,387.7 726.7,387.1 C727.7,386.5 728.7,385.5 729.7,385 C730.7,384.5 731.8,384.4 732.8,384.2 C733.8,383.9 734.8,384 735.8,383.6 C736.8,383.3 737.8,382.5 738.8,382.1 C739.8,381.7 740.8,381.3 741.8,381.3 C742.8,381.2 743.8,381.9 744.8,381.9 C745.8,381.9 746.9,381.8 747.9,381.2 C748.9,380.7 749.9,379.9 750.9,378.7 C751.9,377.4 752.9,375.4 753.9,373.6 C754.9,371.9 755.9,370 756.9,368 C757.9,366 758.9,363.7 759.9,361.7 C760.9,359.7 762,357.5 763,356.1 C764,354.7 765,354.1 766,353.4 C767,352.6 768,352.5 769,351.5 C770,350.6 771,348.5 772,347.7 C773,346.9 774,346.9 775,346.7 C776,346.6 777.1,346.7 778.1,346.7 C779.1,346.7 780.1,346.7 781.1,346.6 C782.1,346.5 783.1,346.1 784.1,345.9 C785.1,345.7 786.1,345.6 787.1,345.4 C788.1,345.3 789.1,345.3 790.1,345 C791.1,344.7 792.2,344.2 793.2,343.4 C794.2,342.7 795.2,341.4 796.2,340.5 C797.2,339.6 798.2,339 799.2,338.2 C800.2,337.4 801.2,336.1 802.2,335.6 C803.2,335.2 804.2,335.7 805.2,335.7 C806.2,335.6 807.3,335.1 808.3,335.1 C809.3,335.1 810.3,335.6 811.3,335.8 C812.3,336 813.3,336 814.3,336.4 C815.3,336.8 816.3,337.2 817.3,338.3 C818.3,339.4 819.3,341.5 820.3,343 C821.3,344.5 822.4,345.6 823.4,347.3 C824.4,349 825.4,351.4 826.4,353.3 C827.4,355.1 828.4,356.9 829.4,358.2 C830.4,359.5 831.4,359.8 832.4,360.9 C833.4,362 834.4,363.5 835.4,364.9 C836.4,366.2 837.5,367.4 838.5,368.8 C839.5,370.2 840.5,372.4 841.5,373.4 C842.5,374.4 843.5,374.8 844.5,374.9 C845.5,374.9 846.5,374.5 847.5,373.8 C848.5,373.1 849.5,371.6 850.5,370.6 C851.5,369.7 852.6,369.1 853.6,368.1 C854.6,367 855.6,365.6 856.6,364.2 C857.6,362.8 858.6,360.9 859.6,359.7 C860.6,358.4 861.6,358 862.6,356.7 C863.6,355.3 864.6,353.1 865.6,351.8 C866.6,350.5 867.7,350.1 868.7,349.1 C869.7,348.1 870.7,346.5 871.7,345.5 C872.7,344.6 873.7,343.3 874.7,343.2 C875.7,343.2 876.7,344.9 877.7,345 C878.7,345.1 879.7,344.2 880.7,343.9 C881.7,343.6 882.8,343.3 883.8,343.3 C884.8,343.3 885.8,343.9 886.8,343.9 C887.8,343.8 888.8,343.3 889.8,343.2 C890.8,343.1 891.8,344.2 892.8,343.3 C893.8,342.4 894.8,339.2 895.8,337.9 C896.8,336.6 897.9,336.6 898.9,335.5 C899.9,334.5 900.9,333 901.9,331.4 C902.9,329.9 903.9,327.9 904.9,326.3 C905.9,324.6 906.9,323.1 907.9,321.4 C908.9,319.7 909.9,317.5 910.9,316 C911.9,314.5 913,313.7 914,312.4 C915,311.1 916,309.4 917,308.2 C918,307.1 919,305.8 920,305.5 C921,305.1 922,306.2 923,306.3 C924,306.3 925,305.4 926,305.6 C927,305.8 928.1,307.4 929.1,307.5 C930.1,307.7 931.1,306.8 932.1,306.4 C933.1,305.9 934.1,305.1 935.1,304.7 C936.1,304.4 937.1,304.8 938.1,304.3 C939.1,303.8 940.1,302.6 941.1,301.8 C942.1,301 943.2,300.3 944.2,299.7 C945.2,299.1 946.2,298.6 947.2,298.2 C948.2,297.8 949.2,297.5 950.2,297.1 C951.2,296.6 952.2,296.5 953.2,295.7 C954.2,294.8 955.2,292.6 956.2,291.7 C957.2,290.8 958.3,290.2 959.3,290.2 C960.3,290.1 961.3,291 962.3,291.4 C963.3,291.8 964.3,292.3 965.3,292.8 C966.3,293.3 967.3,293.6 968.3,294.5 C969.3,295.4 970.3,297.2 971.3,298.1 C972.3,298.9 973.4,299.2 974.4,299.6 C975.4,300 976.4,299.7 977.4,300.5 C978.4,301.3 979.4,303.1 980.4,304.3 C981.4,305.4 982.4,306.8 983.4,307.3 C984.4,307.8 985.4,306.9 986.4,307.4 C987.4,307.9 988.5,309.9 989.5,310.5 C990.5,311.2 991.5,311.5 992.5,311.4 C993.5,311.3 995,310.2 995.5,309.9" stroke="#5f5fe4" stroke-width="1" fill="none"/><path d="M404,285.5 H1024" stroke="#3d9f8e" stroke-width="1" stroke-dasharray="1.2 2.2"/></g><g clip-path="url(#cM)"><path d="M406.6,695.5 V692.9 M409.6,695.5 V685.1 M412.6,695.5 V679 M415.7,695.5 V675 M418.7,695.5 V673 M421.7,695.5 V671 M424.7,695.5 V676 M427.7,695.5 V682 M430.8,695.5 V690.5 M433.8,695.5 V691.3 M436.8,695.5 V691.5 M439.8,695.5 V691.7 M442.8,695.5 V693 M445.9,695.5 V699.7 M448.9,695.5 V702.4 M451.9,695.5 V705.1 M454.9,695.5 V707 M457.9,695.5 V708.5 M461,695.5 V710 M464,695.5 V711.6 M467,695.5 V713.1 M470,695.5 V714 M473,695.5 V715 M476.1,695.5 V715.9 M479.1,695.5 V716.9 M482.1,695.5 V717 M485.1,695.5 V715 M488.1,695.5 V712.9 M491.2,695.5 V710.8 M494.2,695.5 V708.7 M497.2,695.5 V707.3 M500.2,695.5 V706.3 M503.2,695.5 V705.3 M506.3,695.5 V704.3 M509.3,695.5 V704.2 M512.3,695.5 V704 M515.3,695.5 V703.9 M518.3,695.5 V703.7 M521.4,695.5 V703.6 M524.4,695.5 V703.5 M527.4,695.5 V703.6 M530.4,695.5 V703.8 M533.4,695.5 V703.9 M536.5,695.5 V704.1 M539.5,695.5 V704.2 M542.5,695.5 V703.5 M545.5,695.5 V701.3 M548.5,695.5 V699 M551.6,695.5 V693.9 M554.6,695.5 V690.3 M557.6,695.5 V686.7 M560.6,695.5 V683.9 M563.6,695.5 V682 M566.7,695.5 V680.2 M569.7,695.5 V678.3 M572.7,695.5 V676.4 M575.7,695.5 V673.2 M578.7,695.5 V669.6 M581.8,695.5 V666.1 M584.8,695.5 V662.5 M587.8,695.5 V659.8 M590.8,695.5 V663.9 M593.8,695.5 V668.1 M596.9,695.5 V669.9 M599.9,695.5 V671.1 M602.9,695.5 V672.3 M605.9,695.5 V672 M608.9,695.5 V671.4 M612,695.5 V670.8 M615,695.5 V671.4 M618,695.5 V672.2 M621,695.5 V676.7 M624,695.5 V683.7 M627.1,695.5 V687.4 M630.1,695.5 V690.4 M633.1,695.5 V691.9 M636.1,695.5 V690.8 M639.1,695.5 V687.4 M642.2,695.5 V684 M645.2,695.5 V688.4 M648.2,695.5 V692.4 M651.2,695.5 V694.4 M654.2,695.5 V697.4 M657.3,695.5 V701.4 M660.3,695.5 V704.8 M663.3,695.5 V708 M666.3,695.5 V711.2 M669.3,695.5 V714.5 M672.4,695.5 V717.5 M675.4,695.5 V714.7 M678.4,695.5 V711.8 M681.4,695.5 V709 M684.4,695.5 V706.2 M687.5,695.5 V702.8 M690.5,695.5 V698.2 M693.5,695.5 V694.5 M696.5,695.5 V694 M699.5,695.5 V692.5 M702.6,695.5 V687.8 M705.6,695.5 V682.3 M708.6,695.5 V682.7 M711.6,695.5 V683 M714.6,695.5 V682.2 M717.7,695.5 V682.2 M720.7,695.5 V682.6 M723.7,695.5 V684.3 M726.7,695.5 V690.8 M729.7,695.5 V696.5 M732.8,695.5 V696.9 M735.8,695.5 V696.8 M738.8,695.5 V696.7 M741.8,695.5 V696.6 M744.8,695.5 V696.5 M747.9,695.5 V696.5 M750.9,695.5 V696.5 M753.9,695.5 V688.6 M756.9,695.5 V686.2 M759.9,695.5 V683.8 M763,695.5 V683.7 M766,695.5 V687.8 M769,695.5 V692 M772,695.5 V696.5 M775,695.5 V698.6 M778.1,695.5 V701.2 M781.1,695.5 V702.5 M784.1,695.5 V702.3 M787.1,695.5 V702.2 M790.1,695.5 V702 M793.2,695.5 V701.9 M796.2,695.5 V701.7 M799.2,695.5 V702.6 M802.2,695.5 V704.2 M805.2,695.5 V705.7 M808.3,695.5 V707 M811.3,695.5 V708.2 M814.3,695.5 V709.4 M817.3,695.5 V710.6 M820.3,695.5 V711.8 M823.4,695.5 V713 M826.4,695.5 V713.2 M829.4,695.5 V713.2 M832.4,695.5 V713.2 M835.4,695.5 V713.2 M838.5,695.5 V713.2 M841.5,695.5 V713.1 M844.5,695.5 V707 M847.5,695.5 V701 M850.5,695.5 V698.3 M853.6,695.5 V697.1 M856.6,695.5 V694.5 M859.6,695.5 V691.8 M862.6,695.5 V691.1 M865.6,695.5 V690.3 M868.7,695.5 V689.6 M871.7,695.5 V689.7 M874.7,695.5 V690.4 M877.7,695.5 V691 M880.7,695.5 V691.6 M883.8,695.5 V694.5 M886.8,695.5 V694.5 M889.8,695.5 V694.5 M892.8,695.5 V694.5 M895.8,695.5 V684.5 M898.9,695.5 V681.4 M901.9,695.5 V679.7 M904.9,695.5 V680.7 M907.9,695.5 V681.7 M910.9,695.5 V682.7 M914,695.5 V684.6 M917,695.5 V687.1 M920,695.5 V689.6 M923,695.5 V692.2 M926,695.5 V696.5 M929.1,695.5 V696.5 M932.1,695.5 V696.5 M935.1,695.5 V696.5 M938.1,695.5 V694.5 M941.1,695.5 V694.5 M944.2,695.5 V694.5 M947.2,695.5 V694.5 M950.2,695.5 V694.5 M953.2,695.5 V696.5 M956.2,695.5 V697.4 M959.3,695.5 V699.3 M962.3,695.5 V701.2 M965.3,695.5 V703.3 M968.3,695.5 V705.4 M971.3,695.5 V707.5 M974.4,695.5 V709.7 M977.4,695.5 V711.8 M980.4,695.5 V712.3 M983.4,695.5 V709.8 M986.4,695.5 V707.2 M989.5,695.5 V704.7 M992.5,695.5 V700.5 M995.5,695.5 V696.5" stroke="#ec9a98" stroke-width="1.3" fill="none"/><path d="M404.4,728.2 C406.6,724.8 414,713.3 417.7,707.9 C421.4,702.4 423.6,698.6 426.5,695.5 C429.5,692.4 432.7,690.5 435.4,689.3 C438,688.1 439.8,686.9 442.4,688.4 C445.1,689.9 447.7,694 451.3,698.1 C454.8,702.3 459.8,709.2 463.6,713.2 C467.5,717.1 471,718.2 474.3,722 C477.5,725.8 479.9,731.7 483.1,736.1 C486.3,740.6 489.9,745.4 493.7,748.5 C497.5,751.6 502.3,753.1 506.1,754.7 C509.9,756.3 513.2,756.6 516.7,758.2 C520.2,759.9 523.8,762.7 527.3,764.4 C530.8,766.2 534.1,767.4 537.9,768.8 C541.7,770.3 546.7,773.4 550.3,772.9 C553.8,772.5 555.6,770 559.1,766.2 C562.7,762.4 567.4,757.4 571.5,750.3 C575.6,743.2 580,732.3 583.9,723.8 C587.7,715.2 590.7,707.3 594.5,699 C598.3,690.8 602.4,683 606.9,674.3 C611.3,665.6 616.6,653 621,646.9 C625.4,640.7 629.8,639.5 633.4,637.1 C636.9,634.8 639.3,634.3 642.2,632.7 C645.2,631.1 648.7,628 651.1,627.4 C653.4,626.8 654,627.3 656.4,629.2 C658.7,631.1 662,634.8 665.2,638.9 C668.4,643 672.3,649.4 675.8,653.9 C679.3,658.5 683.5,663.8 686.4,666.3 C689.4,668.8 691.2,668.7 693.5,669 C695.8,669.2 698.2,668.7 700,668.1 C701.8,667.5 702.3,667.3 704.1,665.4 C705.9,663.5 706.9,659.8 710.6,656.6 C714.3,653.3 721.5,647.5 726.5,646 C731.5,644.4 736.2,647.5 740.7,647.4 C745.1,647.2 749.5,646.8 753,645.1 C756.6,643.4 758.9,639.2 761.9,637.1 C764.8,635.1 767.5,632.7 770.7,632.7 C774,632.7 777.2,635.5 781.3,637.1 C785.5,638.7 791.3,640.1 795.5,642.4 C799.6,644.8 802,647.7 806.1,651.3 C810.2,654.8 816.1,659.2 820.2,663.6 C824.4,668.1 827.3,673.1 830.8,677.8 C834.4,682.5 838.8,688.8 841.4,691.9 C844.1,695.1 843.8,696.2 846.7,696.9 C849.7,697.6 855.3,697.5 859.1,696.4 C863,695.2 865.9,691.8 869.7,690.2 C873.6,688.5 878.6,687 882.1,686.3 C885.6,685.5 888,687.5 890.9,685.7 C893.9,684 896.3,680 899.8,676 C903.3,672 908,665.1 912.2,661.9 C916.3,658.6 920.7,657.5 924.5,656.6 C928.4,655.7 931.3,656.9 935.1,656.6 C939,656.2 943.7,654.6 947.5,654.5 C951.4,654.3 954.6,654.2 958.1,655.7 C961.7,657.2 964.9,660 968.7,663.6 C972.6,667.3 977.6,674.1 981.1,677.8 C984.7,681.5 987.6,684.2 990,685.7 C992.3,687.3 994.4,686.8 995.3,687" stroke="#e06a60" stroke-width="1.1" fill="none"/><path d="M404.4,735.3 C405.7,729.8 409,712.6 412.4,702.5 C415.8,692.5 421.5,678.2 424.8,675.1 C428,672 429.8,682.7 431.8,684 C433.9,685.3 435.4,682.4 437.1,683.1 C438.9,683.8 439.8,683.1 442.4,688.4 C445.1,693.7 450.1,708.6 453,714.9 C456,721.3 457.8,725.2 460.1,726.4 C462.5,727.6 464.8,721.3 467.2,722 C469.5,722.7 471.8,725.4 474.3,730.8 C476.8,736.3 479.6,750.3 482.2,754.7 C484.9,759.1 488,756.5 490.2,757.4 C492.4,758.2 493.7,760.3 495.5,760 C497.2,759.7 498.7,755.4 500.8,755.6 C502.8,755.7 505.8,760.5 507.9,760.9 C509.9,761.3 510.5,756.3 513.2,757.9 C515.8,759.5 520.2,768.8 523.8,770.6 C527.3,772.4 531.1,767.5 534.4,768.8 C537.6,770.2 540.6,778 543.2,778.6 C545.9,779.2 547.3,776.8 550.3,772.4 C553.2,768 557.4,758.7 560.9,752.1 C564.4,745.4 568.8,737.6 571.5,732.6 C574.2,727.6 574.7,727.6 576.8,722 C578.9,716.4 581.8,706.7 583.9,699 C585.9,691.3 587.1,681.8 589.2,676 C591.2,670.3 593.9,668.4 596.3,664.5 C598.6,660.7 601.3,656.1 603.3,653 C605.4,649.9 606.9,649.2 608.6,646 C610.4,642.7 612.2,636.7 613.9,633.6 C615.7,630.5 617.2,627.6 619.2,627.4 C621.3,627.3 624,631.5 626.3,632.7 C628.7,633.9 631.3,635.5 633.4,634.5 C635.4,633.4 636.9,629 638.7,626.5 C640.5,624 641.3,619 644,619.4 C646.6,619.9 651.1,623.3 654.6,629.2 C658.1,635.1 662.3,647.4 665.2,654.8 C668.2,662.2 669.9,670 672.3,673.4 C674.6,676.8 677,674.4 679.3,675.1 C681.7,675.9 684.1,679 686.4,677.8 C688.8,676.6 691.2,670.6 693.5,668.1 C695.8,665.6 698.5,663.8 700,662.8 C701.5,661.7 701.2,662.9 702.3,661.9 C703.5,660.8 705.6,658.9 707.1,656.6 C708.5,654.2 709.7,650.1 711.2,647.7 C712.6,645.4 713.8,644.3 715.9,642.4 C718,640.5 721.2,635.5 723.9,636.2 C726.5,637 729,644.9 731.8,646.9 C734.6,648.8 737.4,648 740.7,647.7 C743.9,647.4 748.3,648 751.3,645.1 C754.2,642.1 756.3,633.7 758.3,630.1 C760.4,626.4 761.6,623.1 763.6,623 C765.7,622.8 768.7,626.4 770.7,629.2 C772.8,632 774.3,637.7 776,639.8 C777.8,641.8 779.6,640.7 781.3,641.5 C783.1,642.4 784.3,644.3 786.6,645.1 C789,645.8 792.2,643.5 795.5,646 C798.7,648.5 802.8,656.7 806.1,660.1 C809.3,663.5 812,663.1 814.9,666.3 C817.9,669.5 820.8,674.7 823.8,679.6 C826.7,684.4 829.7,690.8 832.6,695.5 C835.5,700.2 839.4,705.7 841.4,707.9 C843.5,710 843.2,709.5 845,708.2 C846.7,706.9 849.7,702.3 852.1,699.9 C854.4,697.5 857.1,695.5 859.1,693.7 C861.2,691.9 862.7,690.6 864.4,689.3 C866.2,688 868,687.1 869.7,685.7 C871.5,684.4 873,681.9 875,681.3 C877.1,680.7 879.2,681.5 882.1,682.2 C885.1,683 890.1,688 892.7,685.7 C895.4,683.5 896,674 898,669 C900.1,663.9 902.1,658.8 905.1,655.7 C908,652.5 913,650.8 915.7,650 C918.4,649.3 918.6,649.9 921,651.3 C923.4,652.7 927.2,657.9 929.8,658.3 C932.5,658.8 934.6,655.1 936.9,653.9 C939.3,652.7 942.2,651.3 944,651.3 C945.8,651.3 945.8,653.2 947.5,653.9 C949.3,654.7 951.7,653.5 954.6,655.7 C957.5,657.9 962,663.2 965.2,667.2 C968.4,671.2 971.1,674.8 974,679.6 C977,684.3 980.8,693.6 982.9,695.5 C984.9,697.4 985.2,690.9 986.4,691.1 C987.6,691.2 988.5,696.9 990,696.4 C991.4,695.8 994.4,689 995.3,687.5" stroke="#5252e0" stroke-width="1.1" fill="none"/></g><path d="M404,599.5 H1087" stroke="#8a8a8a" stroke-width="1.2"/><path d="M1024.5,207.5 V822" stroke="#8d8d8d" stroke-width="1.3"/><path d="M404,794.8 H1087" stroke="#9a9a9a" stroke-width="1.8"/><path d="M1025,225 H1029 M1025,271.1 H1029 M1025,317.2 H1029 M1025,363.3 H1029 M1025,409.4 H1029 M1025,455.5 H1029 M1025,501.6 H1029 M1025,547.7 H1029 M1025,593.8 H1029 M1025,603 H1029 M1025,634 H1029 M1025,664.6 H1029 M1025,695.3 H1029 M1025,726 H1029 M1025,757 H1029 M1025,788 H1029 M455.2,795.5 V799 M545.8,795.5 V799 M636.2,795.5 V799 M726.7,795.5 V799 M817.1,795.5 V799 M907.5,795.5 V799 M1012.6,795.5 V799" stroke="#777" stroke-width="1"/><rect x="1024.5" y="278.5" width="59" height="14" fill="#3d9f8e"/><g fill="none" stroke="#222" stroke-width="1.4"><circle cx="1053.2" cy="809.6" r="4.6"/><path d="M1058.4,809.6 L1061,809.6"/><path d="M1056.9,813.3 L1058.7,815.1"/><path d="M1053.2,814.8 L1053.2,817.4"/><path d="M1049.5,813.3 L1047.7,815.1"/><path d="M1048,809.6 L1045.4,809.6"/><path d="M1049.5,805.9 L1047.7,804.1"/><path d="M1053.2,804.4 L1053.2,801.8"/><path d="M1056.9,805.9 L1058.7,804.1"/></g></svg><div class="ax" style="left:1033px;top:220px">1.05700</div><div class="ax" style="left:1033px;top:266.1px">1.05650</div><div class="ax" style="left:1033px;top:312.2px">1.05600</div><div class="ax" style="left:1033px;top:358.3px">1.05550</div><div class="ax" style="left:1033px;top:404.4px">1.05500</div><div class="ax" style="left:1033px;top:450.5px">1.05450</div><div class="ax" style="left:1033px;top:496.6px">1.05400</div><div class="ax" style="left:1033px;top:542.7px">1.05350</div><div class="ax" style="left:1033px;top:588.8px">1.05300</div><div class="ax" style="left:1033px;top:279.5px;color:#fff">1.05634</div><div class="ax" style="left:1033px;top:598px">0.0003</div><div class="ax" style="left:1033px;top:629px">0.0002</div><div class="ax" style="left:1033px;top:659.6px">0.0001</div><div class="ax" style="left:1033px;top:690.3px">0.0000</div><div class="ax" style="left:1033px;top:721px">−0.0001</div><div class="ax" style="left:1033px;top:752px">−0.0002</div><div class="ax" style="left:1033px;top:783px">−0.0003</div><div class="ax" style="left:435.2px;top:805px;width:40px;text-align:center;font-size:12px">14:00</div><div class="ax" style="left:525.8px;top:805px;width:40px;text-align:center;font-size:12px">14:30</div><div class="ax" style="left:616.2px;top:805px;width:40px;text-align:center;font-size:12px">15:00</div><div class="ax" style="left:706.7px;top:805px;width:40px;text-align:center;font-size:12px">15:30</div><div class="ax" style="left:797.1px;top:805px;width:40px;text-align:center;font-size:12px">16:00</div><div class="ax" style="left:887.5px;top:805px;width:40px;text-align:center;font-size:12px">16:30</div><div class="a" style="left:990px;top:800px;width:34px;height:20px;overflow:hidden"><div class="ax" style="left:9px;top:5px;font-size:12px">17:05</div></div><div class="t" style="left:413px;top:216.5px;font-size:15.6px;color:#222">EUR/USD <span style="color:#999">&#183;</span> 1</div><div class="a" style="left:523px;top:217px;width:14px;height:14px;border-radius:50%;background:#e4f1ee"></div><div class="a" style="left:526.5px;top:220.5px;width:7px;height:7px;border-radius:50%;background:#3d9f8e"></div><div class="t" style="left:556px;top:217.5px;font-size:13px;color:#6aae9f"><span style="color:#666">O</span>1.05623&nbsp; <span style="color:#666">H</span>1.05636&nbsp; <span style="color:#666">L</span>1.05620&nbsp; <span style="color:#666">C</span>1.05634&nbsp; +0.00017 (+0.02%)</div><div class="a" style="left:412px;top:238px;width:21px;height:20px;border:1px solid #dcdcdc;border-radius:3px;background:#fff"></div><svg class="a" style="left:417px;top:243px" width="11" height="10" viewBox="0 0 11 10"><path d="M2,3.5 L5.5,7 L9,3.5" fill="none" stroke="#222" stroke-width="1.4"/></svg><div class="t" style="left:440px;top:241.5px;font-size:13.5px;color:#333">MA <span style="color:#888">9 close 0</span>&nbsp;&nbsp; <span style="color:#3c3cdc">1.0561</span></div><div class="a" style="left:412px;top:605px;width:21px;height:20px;border:1px solid #dcdcdc;border-radius:3px;background:#fff"></div><svg class="a" style="left:417px;top:610px" width="11" height="10" viewBox="0 0 11 10"><path d="M2,3.5 L5.5,7 L9,3.5" fill="none" stroke="#222" stroke-width="1.4"/></svg><div class="t" style="left:440px;top:608.5px;font-size:13.5px;color:#333">MACD <span style="color:#888">12 26 close 9</span>&nbsp; <span style="color:#e0524f">−0.0000</span>&nbsp; <span style="color:#3c3cdc">0.0000</span>&nbsp; <span style="color:#e0623f">0.0000</span></div><div class="a" style="left:1088px;top:138px;width:766px;height:30px;background:linear-gradient(115deg,#cecece,#cfcfcf 58%,#d3d3d3 66%,#d8d8d8 80%,#d4d4d4)"></div><div class="a" style="left:1089px;top:138px;width:110px;height:30px;background:#efefef;border-radius:0 4px 0 0"></div><div class="t" style="left:1104px;top:148.5px;font-size:11.8px;font-weight:bold;color:#222">AUD/USD</div><div class="t" style="left:1175px;top:147px;font-size:13px;color:#555">&#215;</div><svg class="a" style="left:1832px;top:147px" width="14" height="14" viewBox="0 0 14 14"><path d="M2,2 L12,12 M12,2 L2,12" stroke="#222" stroke-width="1.5"/></svg><div class="a" style="left:1088px;top:168px;width:55px;height:654px;background:#fff"></div><div class="a" style="left:1143px;top:168px;width:3px;height:654px;background:#e9e9eb"></div><div class="a" style="left:1089px;top:471px;width:54px;height:1.5px;background:#e6e6e8"></div><div class="a" style="left:1089px;top:556px;width:54px;height:1.5px;background:#e6e6e8"></div><div class="a" style="left:1089px;top:714px;width:54px;height:1.5px;background:#e6e6e8"></div><svg class="a" style="left:0;top:0;overflow:visible" width="1" height="1"><g fill="none" stroke="#222" stroke-width="1.3" stroke-linecap="round" stroke-linejoin="round"><g stroke="#85ade0" stroke-width="1.5" stroke-linecap="butt"><path d="M1115,181.5 V188.5 M1115,197.5 V204.5 M1103.5,193 H1111.3 M1118.8,193 H1126.6"/></g><path d="M1107.4,236.3 L1121.5,222"/><circle cx="1105.8" cy="237.8" r="2.3"/><circle cx="1123.1" cy="220.5" r="2.3"/><circle cx="1105.8" cy="262.8" r="2.1"/><circle cx="1105.8" cy="273.7" r="2.1"/><circle cx="1117.3" cy="273.7" r="2.1"/><path d="M1107.3,264.3 L1115.8,272.2 M1107.3,261.3 L1114.4,254.5 M1107.3,272.2 L1119.8,259.6 M1118.8,272.2 L1125.3,265.4"/><path d="M1103.5,309.6 L1109.3,302.5 C1111.3,299 1114.3,298.5 1116.8,301 C1118.8,304 1116.8,307.5 1112.8,309 C1109.8,310.3 1105.8,310 1103.5,309.6 Z"/><path d="M1117.8,296 C1117.3,298 1118.3,300 1119.8,300.5 L1126.8,294"/><path d="M1108.2,332 V329.3 H1121.8 V332 M1115,329.3 V346 M1112.3,346 H1117.8" stroke-width="1.4"/><path d="M1105.7,381.9 L1109.2,365.2 L1113.1,372.6 L1121.2,366.3 L1124.3,379.4 L1113.1,372.6 Z"/><circle cx="1105.7" cy="381.9" r="2.1" fill="#fff"/><circle cx="1109.2" cy="365.2" r="2.1" fill="#fff"/><circle cx="1113.1" cy="372.6" r="2.1" fill="#fff"/><circle cx="1121.2" cy="366.3" r="2.1" fill="#fff"/><circle cx="1124.3" cy="379.4" r="2.1" fill="#fff"/><path d="M1106.8,401.7 H1125.5 M1106.8,412.2 H1123.2 M1106.8,419.6 H1125.5"/><circle cx="1104.7" cy="401.7" r="2.1" fill="#fff"/><circle cx="1104.7" cy="412.2" r="2.1" fill="#fff"/><circle cx="1104.7" cy="419.6" r="2.1" fill="#fff"/><circle cx="1125.3" cy="412.2" r="2.1" fill="#fff"/><path d="M1115,403.5 V418 M1113.1,405.5 L1115,403.3 L1116.9,405.5 M1113.1,416 L1115,418.2 L1116.9,416" stroke-width="1.2"/><path d="M1109.3,447 H1121.8 M1114,441 L1108,447 L1114,453" stroke-width="3.4" stroke-linecap="round" stroke="#111"/><g transform="translate(1114.6,495.6) rotate(-40)"><rect x="-13" y="-3.4" width="26" height="6.8" rx="1"/><path d="M-8,-3.4 V-0.8 M-4,-3.4 V0.2 M0,-3.4 V-0.8 M4,-3.4 V0.2 M8,-3.4 V-0.8"/></g><circle cx="1113" cy="530.4" r="7.6"/><path d="M1118.4,535.8 L1122.3,539.6 M1109.6,530.4 H1116.4 M1113,527 V533.8"/><path d="M1106.6,589.3 V579 C1106.6,568.5 1122.2,568.5 1122.2,579 V589.3 H1117.6 V579 C1117.6,573 1111.2,573 1111.2,579 V589.3 Z M1106.6,585 H1111.2 M1117.6,585 H1122.2"/><g transform="translate(1110.3,614.5) rotate(-45)"><rect x="-9.5" y="-2.6" width="17" height="5.2" rx="0.8"/><path d="M-9.5,-2.6 L-12.5,0 L-9.5,2.6 M4.5,-2.6 V2.6"/></g><rect x="1116" y="620.8" width="8.4" height="6.2" rx="1"/><path d="M1117.8,620.8 V618.6 C1117.8,615.6 1122.4,615.6 1122.4,617.8"/><rect x="1106.7" y="651.6" width="15.4" height="11.4" rx="1.6"/><path d="M1110.1,651.6 V646.5 C1110.1,640.8 1119,640.8 1119,646"/><circle cx="1114.4" cy="657.6" r="1.3" fill="#222" stroke="none"/><path d="M1104.3,689.8 C1108.8,682 1120.3,682 1124.8,689.8 C1120.3,697.6 1108.8,697.6 1104.3,689.8 Z" stroke-width="1.5"/><circle cx="1114.4" cy="689.8" r="2.9" fill="#111" stroke="none"/><path d="M1106.8,732.5 H1121 M1111.3,732.5 V730.8 H1116.7 V732.5 M1107.6,734.5 L1108,748 C1108.6,749.3 1119.4,749.3 1120,748 L1120.4,734.5 M1111.3,737 V745.8 M1114,737 V745.8 M1116.7,737 V745.8" stroke-width="1.3"/></g></svg><div class="a" style="left:1135px;top:737px;width:8px;height:26px;background:#fff;border:1px solid #e6e6e6;border-radius:3px"></div><div class="t" style="left:1136px;top:743px;font-size:13px;color:#9a9a9a">&#8249;</div><div class="a" style="left:1146px;top:168px;width:659px;height:39px;background:#fff;border-bottom:1px solid #e3e3e3"></div><div class="sep" style="left:1246px;top:170px;height:36px"></div><div class="sep" style="left:1284.5px;top:170px;height:36px"></div><div class="sep" style="left:1323.5px;top:170px;height:36px"></div><div class="sep" style="left:1362.5px;top:170px;height:36px"></div><div class="sep" style="left:1402px;top:170px;height:36px"></div><div class="sep" style="left:1465px;top:170px;height:36px"></div><div class="sep" style="left:1504px;top:170px;height:36px"></div><div class="sep" style="left:1681.5px;top:170px;height:36px"></div><div class="sep" style="left:1774px;top:170px;height:36px"></div><div class="t" style="left:1157px;top:181.5px;font-size:12.8px;font-weight:bold;color:#222">AUD/USD</div><div class="t" style="left:1260px;top:181px;font-size:14.5px;color:#222">D</div><div class="t" style="left:1472px;top:181px;font-size:14.5px;color:#777">MID</div><div class="a" style="left:1506px;top:171px;width:66px;height:33px;background:#d9545e"></div><div class="a" style="left:1574px;top:171px;width:66px;height:33px;background:#5cb46b"></div><div class="t" style="left:1511px;top:175px;font-size:9.5px;color:#fbe3e3">Sell</div><div class="t" style="left:1511px;top:186px;font-size:12.6px;color:#fff">0.70406</div><div class="t" style="left:1579px;top:175px;font-size:9.5px;color:#e3f6e3">Buy</div><div class="t" style="left:1579px;top:186px;font-size:12.6px;color:#fff">0.70446</div><div class="t" style="left:1718px;top:181px;font-size:14px;color:#222">Save</div><svg class="a" style="left:0;top:0;overflow:visible" width="1" height="1"><g fill="none" stroke="#222" stroke-width="1.3" stroke-linecap="round" stroke-linejoin="round"><rect x="1298.2" y="180.5" width="4" height="14" rx="0.8"/><path d="M1300.2,178 V180.5 M1300.2,194.5 V197.5"/><rect x="1306.3" y="184.5" width="4" height="6.8" rx="0.8"/><path d="M1308.3,179.5 V184.5 M1308.3,191.3 V196"/><circle cx="1343" cy="187.8" r="9.2" stroke-width="1.4"/><path d="M1338.2,187.8 H1347.8 M1343,183 V192.6" stroke-width="1.4"/><path d="M1385,178.5 C1383,177.2 1380.2,178 1380.2,181 V193.5 C1380.2,196.5 1377.5,197 1376,195.5 M1377.5,184.5 H1383.5" stroke-width="1.3"/><path d="M1383.5,190.5 L1388,195.5 M1388,190.5 L1383.5,195.5" stroke-width="1.2"/><path d="M1425.5,191.5 C1425,185 1421,183 1418,186 H1413 M1416,183 L1412.5,186 L1416,189" stroke="#333" stroke-width="1.4"/><path d="M1440.5,191.5 C1441,185 1445,183 1448,186 H1453 M1450,183 L1453.5,186 L1450,189" stroke="#d0d0d0" stroke-width="1.4"/><g transform="translate(1661,187.4) rotate(-45)" stroke-width="2.3" stroke="#222" stroke-linecap="round"><path d="M-1.8,-3.9 H-7.2 A3.9,3.9 0 0 0 -7.2,3.9 H-2.6 M1.8,3.9 H7.2 A3.9,3.9 0 0 0 7.2,-3.9 H2.6 M-3.2,0 H3.2"/></g><path d="M1691.5,195.5 H1708.5 C1712.5,195.5 1713,190.5 1710.5,188.5 C1709,181 1703,178 1699,180 C1696.5,181 1695,183.5 1694.5,186 C1691,185.5 1688.5,188 1688.5,191 C1688.5,194 1690,195.5 1691.5,195.5 Z" stroke-dasharray="2.8 2.2" stroke-width="1.3"/><path d="M1760.5,186 L1764,189.5 L1767.5,186" stroke-width="1.3"/><path d="M1800.5,186 L1803.4,186.1 L1803.4,188.9 L1800.5,189 L1799.6,191.4 L1801.5,193.5 L1799.5,195.5 L1797.4,193.6 L1795,194.5 L1794.9,197.4 L1792.1,197.4 L1792,194.5 L1789.6,193.6 L1787.5,195.5 L1785.5,193.5 L1787.4,191.4 L1786.5,189 L1783.6,188.9 L1783.6,186.1 L1786.5,186 L1787.4,183.6 L1785.5,181.5 L1787.5,179.5 L1789.6,181.4 L1792,180.5 L1792.1,177.6 L1794.9,177.6 L1795,180.5 L1797.4,181.4 L1799.5,179.5 L1801.5,181.5 L1799.6,183.6 Z" stroke="#222" stroke-width="1.4" fill="none"/><circle cx="1793.5" cy="187.5" r="2.8" stroke="#222" stroke-width="1.4" fill="none"/></g></svg><div class="a" style="left:1805px;top:168px;width:4px;height:654px;background:#e4e4e6"></div><div class="a" style="left:1809px;top:168px;width:45px;height:654px;background:#fff"></div><svg class="a" style="left:1816px;top:178px" width="32" height="34" viewBox="1816 178 32 34" fill="none" stroke="#222" stroke-width="1.3" stroke-linejoin="round"><path d="M1831.7,181.5 L1843.6,190.5 L1831.7,199.5 L1819.8,190.5 Z"/><path d="M1819.8,194.5 L1831.7,203.5 L1843.6,194.5"/><path d="M1819.8,198.5 L1831.7,207.5 L1843.6,198.5"/></svg><svg class="a" style="left:0;top:0" width="1860" height="830" viewBox="0 0 1860 830"><defs><clipPath id="cA"><rect x="1146" y="207.5" width="598" height="587"/></clipPath></defs><path d="M1146,244 H1744 M1146,301.7 H1744 M1146,359.5 H1744 M1146,417.2 H1744 M1146,474.9 H1744 M1146,532.7 H1744 M1146,590.4 H1744 M1146,648.1 H1744 M1146,705.8 H1744 M1146,763.6 H1744 M1209,207.5 V794 M1330,207.5 V794 M1469,207.5 V794 M1596,207.5 V794 M1680.5,207.5 V794" stroke="#f0f1f4" stroke-width="1"/><g clip-path="url(#cA)"><path d="M1146,580.2 H1744 M1146,585.2 H1744" stroke="#4cae60" stroke-width="1" stroke-dasharray="1.2 2.4"/><path d="M1146,623.3 H1744" stroke="#e0544f" stroke-width="1.2" stroke-dasharray="1.2 2.4"/><g stroke="#47a293" stroke-width="1.1"><path d="M1155.4,511.4 V546"/><path d="M1161.5,488.6 V528.7"/><path d="M1179.6,546 V577.7"/><path d="M1203.7,604.2 V655"/><path d="M1209.8,573.3 V627.7"/><path d="M1215.8,555.9 V580.7"/><path d="M1221.8,551 V585.1"/><path d="M1233.9,573.3 V610.4"/><path d="M1239.9,563.9 V585.6"/><path d="M1246,536.1 V565.8"/><path d="M1258,541.6 V585.1"/><path d="M1270.1,557.2 V589.4"/><path d="M1276.1,530 V564.6"/><path d="M1294.2,518.8 V551"/><path d="M1300.3,513.9 V548.5"/><path d="M1306.3,484.2 V521.3"/><path d="M1318.4,512.6 V567.8"/><path d="M1324.4,494.1 V555.2"/><path d="M1336.5,471.8 V507.7"/><path d="M1342.5,447 V487.9"/><path d="M1348.6,428.5 V474.3"/><path d="M1366.7,453.2 V495.3"/><path d="M1372.7,435.9 V481.7"/><path d="M1390.8,516.3 V552.2"/><path d="M1396.8,476.7 V544.8"/><path d="M1402.9,420.8 V485.1"/><path d="M1408.9,407.2 V439.4"/><path d="M1421,376.2 V431.2"/><path d="M1427,355.9 V388.6"/><path d="M1433.1,343.6 V378.7"/><path d="M1439.1,337.9 V362.6"/><path d="M1451.2,349 V384.9"/><path d="M1469.3,345.3 V375"/><path d="M1475.3,327.2 V368.3"/><path d="M1481.3,266.8 V337.9"/><path d="M1511.5,363.4 V417.8"/><path d="M1541.7,417.3 V448"/><path d="M1547.7,384.9 V433.2"/><path d="M1577.9,537.9 V589.2"/><path d="M1602,562.8 V620"/><path d="M1608.1,494.4 V596.2"/><path d="M1650.3,681.5 V732.1"/><path d="M1656.4,658.5 V721.3"/><path d="M1662.4,625.1 V667.4"/><path d="M1674.5,605.9 V675.1"/></g><g stroke="#dd565a" stroke-width="1.1"><path d="M1149.4,516.3 V549.8"/><path d="M1167.5,514.4 V549"/><path d="M1173.5,539.9 V595.5"/><path d="M1185.6,543.1 V592.6"/><path d="M1191.6,577.7 V633.9"/><path d="M1197.7,621.5 V666.8"/><path d="M1227.9,560.9 V617.8"/><path d="M1252,505.2 V563.4"/><path d="M1264.1,560.9 V598"/><path d="M1282.2,522.5 V560.9"/><path d="M1288.2,515.8 V553"/><path d="M1312.4,511.4 V593.1"/><path d="M1330.5,480.4 V510.1"/><path d="M1354.6,395 V468.1"/><path d="M1360.6,447 V505.9"/><path d="M1378.7,436.6 V485.4"/><path d="M1384.8,475.5 V539.9"/><path d="M1415,403.5 V431.9"/><path d="M1445.1,336.6 V378.7"/><path d="M1457.2,338.6 V358.9"/><path d="M1463.2,345.3 V376.2"/><path d="M1487.4,306.4 V367.6"/><path d="M1493.4,347.3 V378.7"/><path d="M1499.4,364.4 V402.2"/><path d="M1505.5,379.2 V409.7"/><path d="M1517.5,373.8 V420.8"/><path d="M1523.6,378.2 V419.6"/><path d="M1529.6,404.7 V422"/><path d="M1535.7,415.3 V450"/><path d="M1553.8,384.9 V436.9"/><path d="M1559.8,428 V512"/><path d="M1565.8,501.3 V570"/><path d="M1571.9,516.2 V579"/><path d="M1583.9,554.6 V616.2"/><path d="M1590,544.4 V613.6"/><path d="M1596,601.3 V630.3"/><path d="M1614.1,494.4 V603.3"/><path d="M1620.1,570 V613.6"/><path d="M1626.2,607.2 V679"/><path d="M1632.2,655.9 V699.5"/><path d="M1638.3,617.4 V689.2"/><path d="M1644.3,675.1 V746.9"/><path d="M1668.4,621.8 V676.4"/><path d="M1680.5,605.9 V646.4"/></g><g fill="#47a293"><rect x="1153.2" y="526.2" width="4.4" height="15.3"/><rect x="1159.3" y="517.6" width="4.4" height="8.2"/><rect x="1177.4" y="560.9" width="4.4" height="3.7"/><rect x="1201.5" y="609.9" width="4.4" height="42.1"/><rect x="1207.6" y="574.5" width="4.4" height="35.4"/><rect x="1213.6" y="569.6" width="4.4" height="4.2"/><rect x="1219.6" y="567.1" width="4.4" height="1.7"/><rect x="1231.7" y="575.2" width="4.4" height="27.7"/><rect x="1237.7" y="563.9" width="4.4" height="11.4"/><rect x="1243.8" y="544.8" width="4.4" height="19.1"/><rect x="1255.8" y="541.6" width="4.4" height="10.6"/><rect x="1267.9" y="560.9" width="4.4" height="13.6"/><rect x="1273.9" y="535.6" width="4.4" height="24.8"/><rect x="1292" y="538.6" width="4.4" height="10.9"/><rect x="1298.1" y="521.3" width="4.4" height="17.8"/><rect x="1304.1" y="512.9" width="4.4" height="7.9"/><rect x="1316.2" y="514.4" width="4.4" height="40.3"/><rect x="1322.2" y="496.5" width="4.4" height="58.7"/><rect x="1334.3" y="476.7" width="4.4" height="26"/><rect x="1340.3" y="458.2" width="4.4" height="18.6"/><rect x="1346.4" y="431.7" width="4.4" height="26.5"/><rect x="1364.5" y="462.4" width="4.4" height="29.7"/><rect x="1370.5" y="442.1" width="4.4" height="19.8"/><rect x="1388.6" y="535.6" width="4.4" height="4.2"/><rect x="1394.6" y="481.2" width="4.4" height="54.5"/><rect x="1400.7" y="430.7" width="4.4" height="49.5"/><rect x="1406.7" y="407.7" width="4.4" height="23.5"/><rect x="1418.8" y="377.5" width="4.4" height="39.6"/><rect x="1424.8" y="359.7" width="4.4" height="17.8"/><rect x="1430.9" y="352" width="4.4" height="8.2"/><rect x="1436.9" y="351" width="4.4" height="1.5"/><rect x="1449" y="354" width="4.4" height="11.9"/><rect x="1467.1" y="359.7" width="4.4" height="11.1"/><rect x="1473.1" y="334.7" width="4.4" height="28.7"/><rect x="1479.1" y="314.9" width="4.4" height="19.8"/><rect x="1509.3" y="385.6" width="4.4" height="22"/><rect x="1539.5" y="432.7" width="4.4" height="14.1"/><rect x="1545.5" y="387.4" width="4.4" height="45.3"/><rect x="1575.7" y="575.1" width="4.4" height="2.6"/><rect x="1599.8" y="592.6" width="4.4" height="26.2"/><rect x="1605.9" y="497.7" width="4.4" height="94.9"/><rect x="1648.1" y="682.3" width="4.4" height="49.2"/><rect x="1654.2" y="664.9" width="4.4" height="23.6"/><rect x="1660.2" y="632.1" width="4.4" height="33.3"/><rect x="1672.3" y="619.2" width="4.4" height="54.6"/></g><g fill="#dd565a"><rect x="1147.2" y="526.2" width="4.4" height="15.3"/><rect x="1165.3" y="518.1" width="4.4" height="30.9"/><rect x="1171.3" y="547.3" width="4.4" height="17.3"/><rect x="1183.4" y="560.9" width="4.4" height="19.8"/><rect x="1189.4" y="581.2" width="4.4" height="47"/><rect x="1195.5" y="628.2" width="4.4" height="38.6"/><rect x="1225.7" y="566.3" width="4.4" height="37.4"/><rect x="1249.8" y="544.8" width="4.4" height="7.4"/><rect x="1261.9" y="572.5" width="4.4" height="2"/><rect x="1280" y="536.1" width="4.4" height="4.5"/><rect x="1286" y="541.1" width="4.4" height="11.9"/><rect x="1310.2" y="512.6" width="4.4" height="40.8"/><rect x="1328.3" y="496.5" width="4.4" height="6.2"/><rect x="1352.4" y="430.9" width="4.4" height="33.9"/><rect x="1358.4" y="464.9" width="4.4" height="27.2"/><rect x="1376.5" y="444.1" width="4.4" height="36.4"/><rect x="1382.6" y="480.4" width="4.4" height="59.4"/><rect x="1412.8" y="412.1" width="4.4" height="5"/><rect x="1442.9" y="357.9" width="4.4" height="7.9"/><rect x="1455" y="354" width="4.4" height="2"/><rect x="1461" y="354" width="4.4" height="16.1"/><rect x="1485.2" y="313.9" width="4.4" height="39.6"/><rect x="1491.2" y="347.3" width="4.4" height="24"/><rect x="1497.2" y="371.3" width="4.4" height="30.9"/><rect x="1503.3" y="384.4" width="4.4" height="23.3"/><rect x="1515.3" y="384.9" width="4.4" height="3.7"/><rect x="1521.4" y="388.6" width="4.4" height="17.3"/><rect x="1527.4" y="405.2" width="4.4" height="14.9"/><rect x="1533.5" y="421.3" width="4.4" height="25.5"/><rect x="1551.6" y="387.4" width="4.4" height="47"/><rect x="1557.6" y="430" width="4.4" height="79.7"/><rect x="1563.6" y="502.1" width="4.4" height="42.8"/><rect x="1569.7" y="545.6" width="4.4" height="32.1"/><rect x="1581.7" y="575.1" width="4.4" height="18.5"/><rect x="1587.8" y="589.2" width="4.4" height="23.8"/><rect x="1593.8" y="606.4" width="4.4" height="12.3"/><rect x="1611.9" y="496.9" width="4.4" height="85.9"/><rect x="1617.9" y="591.8" width="4.4" height="11.5"/><rect x="1624" y="608.5" width="4.4" height="67.9"/><rect x="1630" y="675.1" width="4.4" height="8.2"/><rect x="1636.1" y="682.3" width="4.4" height="1.8"/><rect x="1642.1" y="684.1" width="4.4" height="47.4"/><rect x="1666.2" y="632.1" width="4.4" height="42.6"/><rect x="1678.3" y="618.2" width="4.4" height="4.4"/></g></g><path d="M1744.5,207.5 V822" stroke="#8d8d8d" stroke-width="1.3"/><path d="M1146,794.8 H1805" stroke="#9a9a9a" stroke-width="1.8"/><path d="M1745,244 H1749 M1745,301.7 H1749 M1745,359.5 H1749 M1745,417.2 H1749 M1745,474.9 H1749 M1745,532.7 H1749 M1745,590.4 H1749 M1745,648.1 H1749 M1745,705.8 H1749 M1745,763.6 H1749 M1209,795.5 V799 M1330,795.5 V799 M1469,795.5 V799 M1596,795.5 V799 M1680.5,795.5 V799" stroke="#777" stroke-width="1"/><rect x="1744.5" y="570.7" width="59.5" height="36.5" fill="#4cae5c"/><rect x="1744.5" y="614.4" width="59.5" height="17.2" fill="#e0544f"/><rect x="1618" y="575" width="96" height="21" fill="#fff" stroke="#5cb85c" stroke-width="1.2"/><rect x="1636" y="570.7" width="78" height="5" fill="#5cb85c"/><rect x="1646" y="571.5" width="30" height="3" fill="#fff"/><rect x="1654" y="575" width="40" height="21" fill="#5cb85c"/><rect x="1694" y="575.6" width="19.4" height="19.8" fill="#dff0df"/><path d="M1699,580.5 L1708,589.5 M1708,580.5 L1699,589.5" stroke="#5a9a6a" stroke-width="1.1"/><g fill="none" stroke="#222" stroke-width="1.4"><circle cx="1773.7" cy="809.6" r="4.6"/><path d="M1778.9,809.6 L1781.5,809.6"/><path d="M1777.4,813.3 L1779.2,815.1"/><path d="M1773.7,814.8 L1773.7,817.4"/><path d="M1770,813.3 L1768.2,815.1"/><path d="M1768.5,809.6 L1765.9,809.6"/><path d="M1770,805.9 L1768.2,804.1"/><path d="M1773.7,804.4 L1773.7,801.8"/><path d="M1777.4,805.9 L1779.2,804.1"/></g></svg><div class="t" style="left:1621px;top:579.5px;font-size:10.5px;font-weight:bold;color:#e0544f">-6.83</div><div class="t" style="left:1659px;top:579.5px;font-size:10.5px;font-weight:bold;color:#fff">1 000</div><div class="ax" style="left:1753px;top:239px">0.77000</div><div class="ax" style="left:1753px;top:296.7px">0.76000</div><div class="ax" style="left:1753px;top:354.5px">0.75000</div><div class="ax" style="left:1753px;top:412.2px">0.74000</div><div class="ax" style="left:1753px;top:469.9px">0.73000</div><div class="ax" style="left:1753px;top:527.7px">0.72000</div><div class="ax" style="left:1753px;top:643.1px">0.70000</div><div class="ax" style="left:1753px;top:700.8px">0.69000</div><div class="ax" style="left:1753px;top:758.6px">0.68000</div><div class="ax" style="left:1753px;top:573.5px;color:#fff">0.71176</div><div class="ax" style="left:1753px;top:591.5px;color:#fff">0.71089</div><div class="ax" style="left:1753px;top:617px;color:#fff">0.70430</div><div class="ax" style="left:1189px;top:805px;width:40px;text-align:center;font-size:12px">Feb</div><div class="ax" style="left:1310px;top:805px;width:40px;text-align:center;font-size:12px">Mar</div><div class="ax" style="left:1449px;top:805px;width:40px;text-align:center;font-size:12px">Apr</div><div class="ax" style="left:1576px;top:805px;width:40px;text-align:center;font-size:12px">May</div><div class="ax" style="left:1660.5px;top:805px;width:40px;text-align:center;font-size:12px">20</div><div class="t" style="left:1154px;top:216.5px;font-size:15.6px;color:#222">AUD/USD <span style="color:#999">&#183;</span> 1D</div><div class="a" style="left:1279px;top:217px;width:14px;height:14px;border-radius:50%;background:#e4f1ee"></div><div class="a" style="left:1282.5px;top:220.5px;width:7px;height:7px;border-radius:50%;background:#3d9f8e"></div><div class="t" style="left:1312px;top:217.5px;font-size:13px;color:#e57373"><span style="color:#666">O</span>0.70533&nbsp; <span style="color:#666">H</span>0.70735&nbsp; <span style="color:#666">L</span>0.70023&nbsp; <span style="color:#666">C</span>0.70430&nbsp; −0.00066 (−0.09%)</div><div class="a" style="left:1086.5px;top:138px;width:767.5px;height:686.5px;border-left:2px solid #4a4a4a;border-bottom:2.5px solid #3c3c3c;border-radius:0 0 0 4px;box-shadow:-2px 1px 3px rgba(0,0,0,.3)"></div><div class="a" style="left:348px;top:822px;width:740px;height:2.5px;background:#c4c4c4"></div><div class="a" style="left:348px;top:824.5px;width:1506px;height:29px;background:linear-gradient(100deg,#d8d8d8,#d6d6d6 8%,#cfcfcf 14%,#cdcdcd 60%,#cecece)"></div><div class="a" style="left:349px;top:824.5px;width:125px;height:29px;background:#efefef;border-radius:0 4px 0 0"></div><div class="t" style="left:363px;top:833.5px;font-size:11.9px;font-weight:bold;color:#222">Positions (4)</div><div class="t" style="left:448px;top:832px;font-size:13px;color:#555">&#215;</div><svg class="a" style="left:1832px;top:832px" width="14" height="14" viewBox="0 0 14 14"><path d="M2,2 L12,12 M12,2 L2,12" stroke="#222" stroke-width="1.5"/></svg><div class="a" style="left:348px;top:853.5px;width:1506px;height:37px;background:#efefef"></div><div class="t" style="left:1761px;top:866.5px;font-size:11.3px;color:#777">XLXS</div><svg class="a" style="left:1790px;top:863px" width="18" height="18" viewBox="0 0 18 18" fill="none" stroke="#888" stroke-width="1.3"><path d="M8.5,1.5 V13 M4.5,9 L8.5,13 L12.5,9 M3,16.3 H14"/></svg><svg class="a" style="left:1815px;top:860px" width="24" height="24" viewBox="1815 860 24 24"><path d="M1832.4,870.8 L1834.4,870.9 L1834.4,873.1 L1832.4,873.2 L1831.6,875.1 L1832.9,876.7 L1831.4,878.2 L1829.8,876.9 L1827.9,877.7 L1827.8,879.7 L1825.6,879.7 L1825.5,877.7 L1823.6,876.9 L1822,878.2 L1820.5,876.7 L1821.8,875.1 L1821,873.2 L1819,873.1 L1819,870.9 L1821,870.8 L1821.8,868.9 L1820.5,867.3 L1822,865.8 L1823.6,867.1 L1825.5,866.3 L1825.6,864.3 L1827.8,864.3 L1827.9,866.3 L1829.8,867.1 L1831.4,865.8 L1832.9,867.3 L1831.6,868.9 Z" stroke="#999" stroke-width="1.1" fill="none"/><circle cx="1826.7" cy="872" r="2.3" stroke="#999" stroke-width="1.1" fill="none"/></svg><div class="a" style="left:348px;top:890.5px;width:1506px;height:33px;background:#f1f1f1;border-top:1px solid #dedede;border-bottom:2px solid #dcdcdc"></div><div class="a" style="left:348px;top:923.5px;width:1506px;height:92px;background:#fff"></div><div class="a" style="left:348px;top:954px;width:1506px;height:1.6px;background:#dadada"></div><div class="a" style="left:348px;top:984.5px;width:1506px;height:1.6px;background:#dadada"></div><div class="a" style="left:348px;top:1013.5px;width:1506px;height:2px;background:#d8d8d8"></div><div class="a" style="left:598px;top:890.5px;width:1.2px;height:124px;background:#cfcfcf"></div><div class="a" style="left:1713.5px;top:890.5px;width:1.2px;height:124px;background:#cfcfcf"></div><div class="a" style="left:739px;top:898px;width:1px;height:18px;background:#dddddd"></div><div class="a" style="left:880px;top:898px;width:1px;height:18px;background:#dddddd"></div><div class="a" style="left:1020.7px;top:898px;width:1px;height:18px;background:#dddddd"></div><div class="a" style="left:1161px;top:898px;width:1px;height:18px;background:#dddddd"></div><div class="a" style="left:1302.5px;top:898px;width:1px;height:18px;background:#dddddd"></div><div class="a" style="left:1442.7px;top:898px;width:1px;height:18px;background:#dddddd"></div><div class="a" style="left:1584px;top:898px;width:1px;height:18px;background:#dddddd"></div><div class="th" style="left:365px;width:200px">MARKET</div><div class="th" style="left:561.5px;width:200px">POSITION</div><div class="th" style="left:702px;width:200px">UNREALISED P/L</div><div class="th" style="left:843px;width:200px">POINT PL</div><div class="th" style="left:984px;width:200px">OPENING PRICE</div><div class="th" style="left:1125px;width:200px">CURRENT PRICE</div><div class="th" style="left:1265.5px;width:200px">STOP LOSS</div><div class="th" style="left:1406px;width:200px">TAKE PROFIT</div><div class="th" style="left:1547px;width:200px">MARGIN</div><div class="a" style="left:1715px;top:895px;width:139px;height:20px;overflow:hidden"><div class="th" style="left:-20px;top:7px;width:200px">CLOSE ALL POSITIONS</div></div><div class="td" style="left:387px;top:931.5px">AUD/USD</div><svg class="a" style="left:361px;top:930.5px" width="10" height="12" viewBox="0 0 10 12"><path d="M3,1.5 L7.5,6 L3,10.5" fill="none" stroke="#777" stroke-width="1.2"/></svg><div class="td" style="left:631px;top:931.5px">Buy</div><div class="td" style="left:627px;top:931.5px;width:100px;text-align:right">2,000</div><div class="td" style="left:768px;top:931.5px;width:100px;text-align:right;color:#d2404d">-14.53 USD</div><div class="td" style="left:909px;top:931.5px;width:100px;text-align:right;color:#d2404d">-72.6</div><div class="td" style="left:1031.5px;top:931.5px;width:120px;text-align:center">0.71133</div><div class="td" style="left:1165.5px;top:931.5px;width:120px;text-align:center">0.70406</div><div class="td" style="left:1313px;top:931.5px;width:120px;text-align:center">Set</div><div class="td" style="left:1453.5px;top:931.5px;width:120px;text-align:center">Set</div><div class="td" style="left:1594px;top:931.5px;width:120px;text-align:center">42.24</div><div class="td" style="left:1724px;top:931.5px;width:120px;text-align:center">Close All</div><div class="td" style="left:387px;top:962.5px">EUR/USD</div><svg class="a" style="left:550px;top:964.5px" width="10" height="8" viewBox="0 0 10 8"><path d="M0.5,1.5 H9.5 L5,6.5 Z" fill="#333"/></svg><div class="td" style="left:631px;top:962.5px">Sell</div><div class="td" style="left:627px;top:962.5px;width:100px;text-align:right">1,000</div><div class="td" style="left:768px;top:962.5px;width:100px;text-align:right;color:#d2404d">-6.16 USD</div><div class="td" style="left:909px;top:962.5px;width:100px;text-align:right;color:#d2404d">-61.6</div><div class="td" style="left:1031.5px;top:962.5px;width:120px;text-align:center">1.05038</div><div class="td" style="left:1165.5px;top:962.5px;width:120px;text-align:center">1.05654</div><div class="td" style="left:1313px;top:962.5px;width:120px;text-align:center">Set</div><div class="td" style="left:1453.5px;top:962.5px;width:120px;text-align:center">Set</div><div class="td" style="left:1594px;top:962.5px;width:120px;text-align:center">21.13</div><div class="td" style="left:1724px;top:962.5px;width:120px;text-align:center">Close</div><div class="td" style="left:387px;top:993px">GBP/JPY</div><svg class="a" style="left:550px;top:995px" width="10" height="8" viewBox="0 0 10 8"><path d="M0.5,1.5 H9.5 L5,6.5 Z" fill="#333"/></svg><div class="td" style="left:631px;top:993px">Buy</div><div class="td" style="left:627px;top:993px;width:100px;text-align:right">1,000</div><div class="td" style="left:768px;top:993px;width:100px;text-align:right;color:#43a853">14.20 USD</div><div class="td" style="left:909px;top:993px;width:100px;text-align:right;color:#43a853">181.6</div><div class="td" style="left:1031.5px;top:993px;width:120px;text-align:center">157.722</div><div class="td" style="left:1165.5px;top:993px;width:120px;text-align:center">159.538</div><div class="td" style="left:1313px;top:993px;width:120px;text-align:center">Set</div><div class="td" style="left:1453.5px;top:993px;width:120px;text-align:center">Set</div><div class="td" style="left:1594px;top:993px;width:120px;text-align:center">37.00</div><div class="td" style="left:1724px;top:993px;width:120px;text-align:center">Close</div><div class="a" style="left:610px;top:923.5px;width:10px;height:30.5px;background:#4caf50"></div><div class="a" style="left:610px;top:955.6px;width:10px;height:29px;background:#d9534f"></div><div class="a" style="left:610px;top:986px;width:10px;height:27.5px;background:#4caf50"></div></body></html>
